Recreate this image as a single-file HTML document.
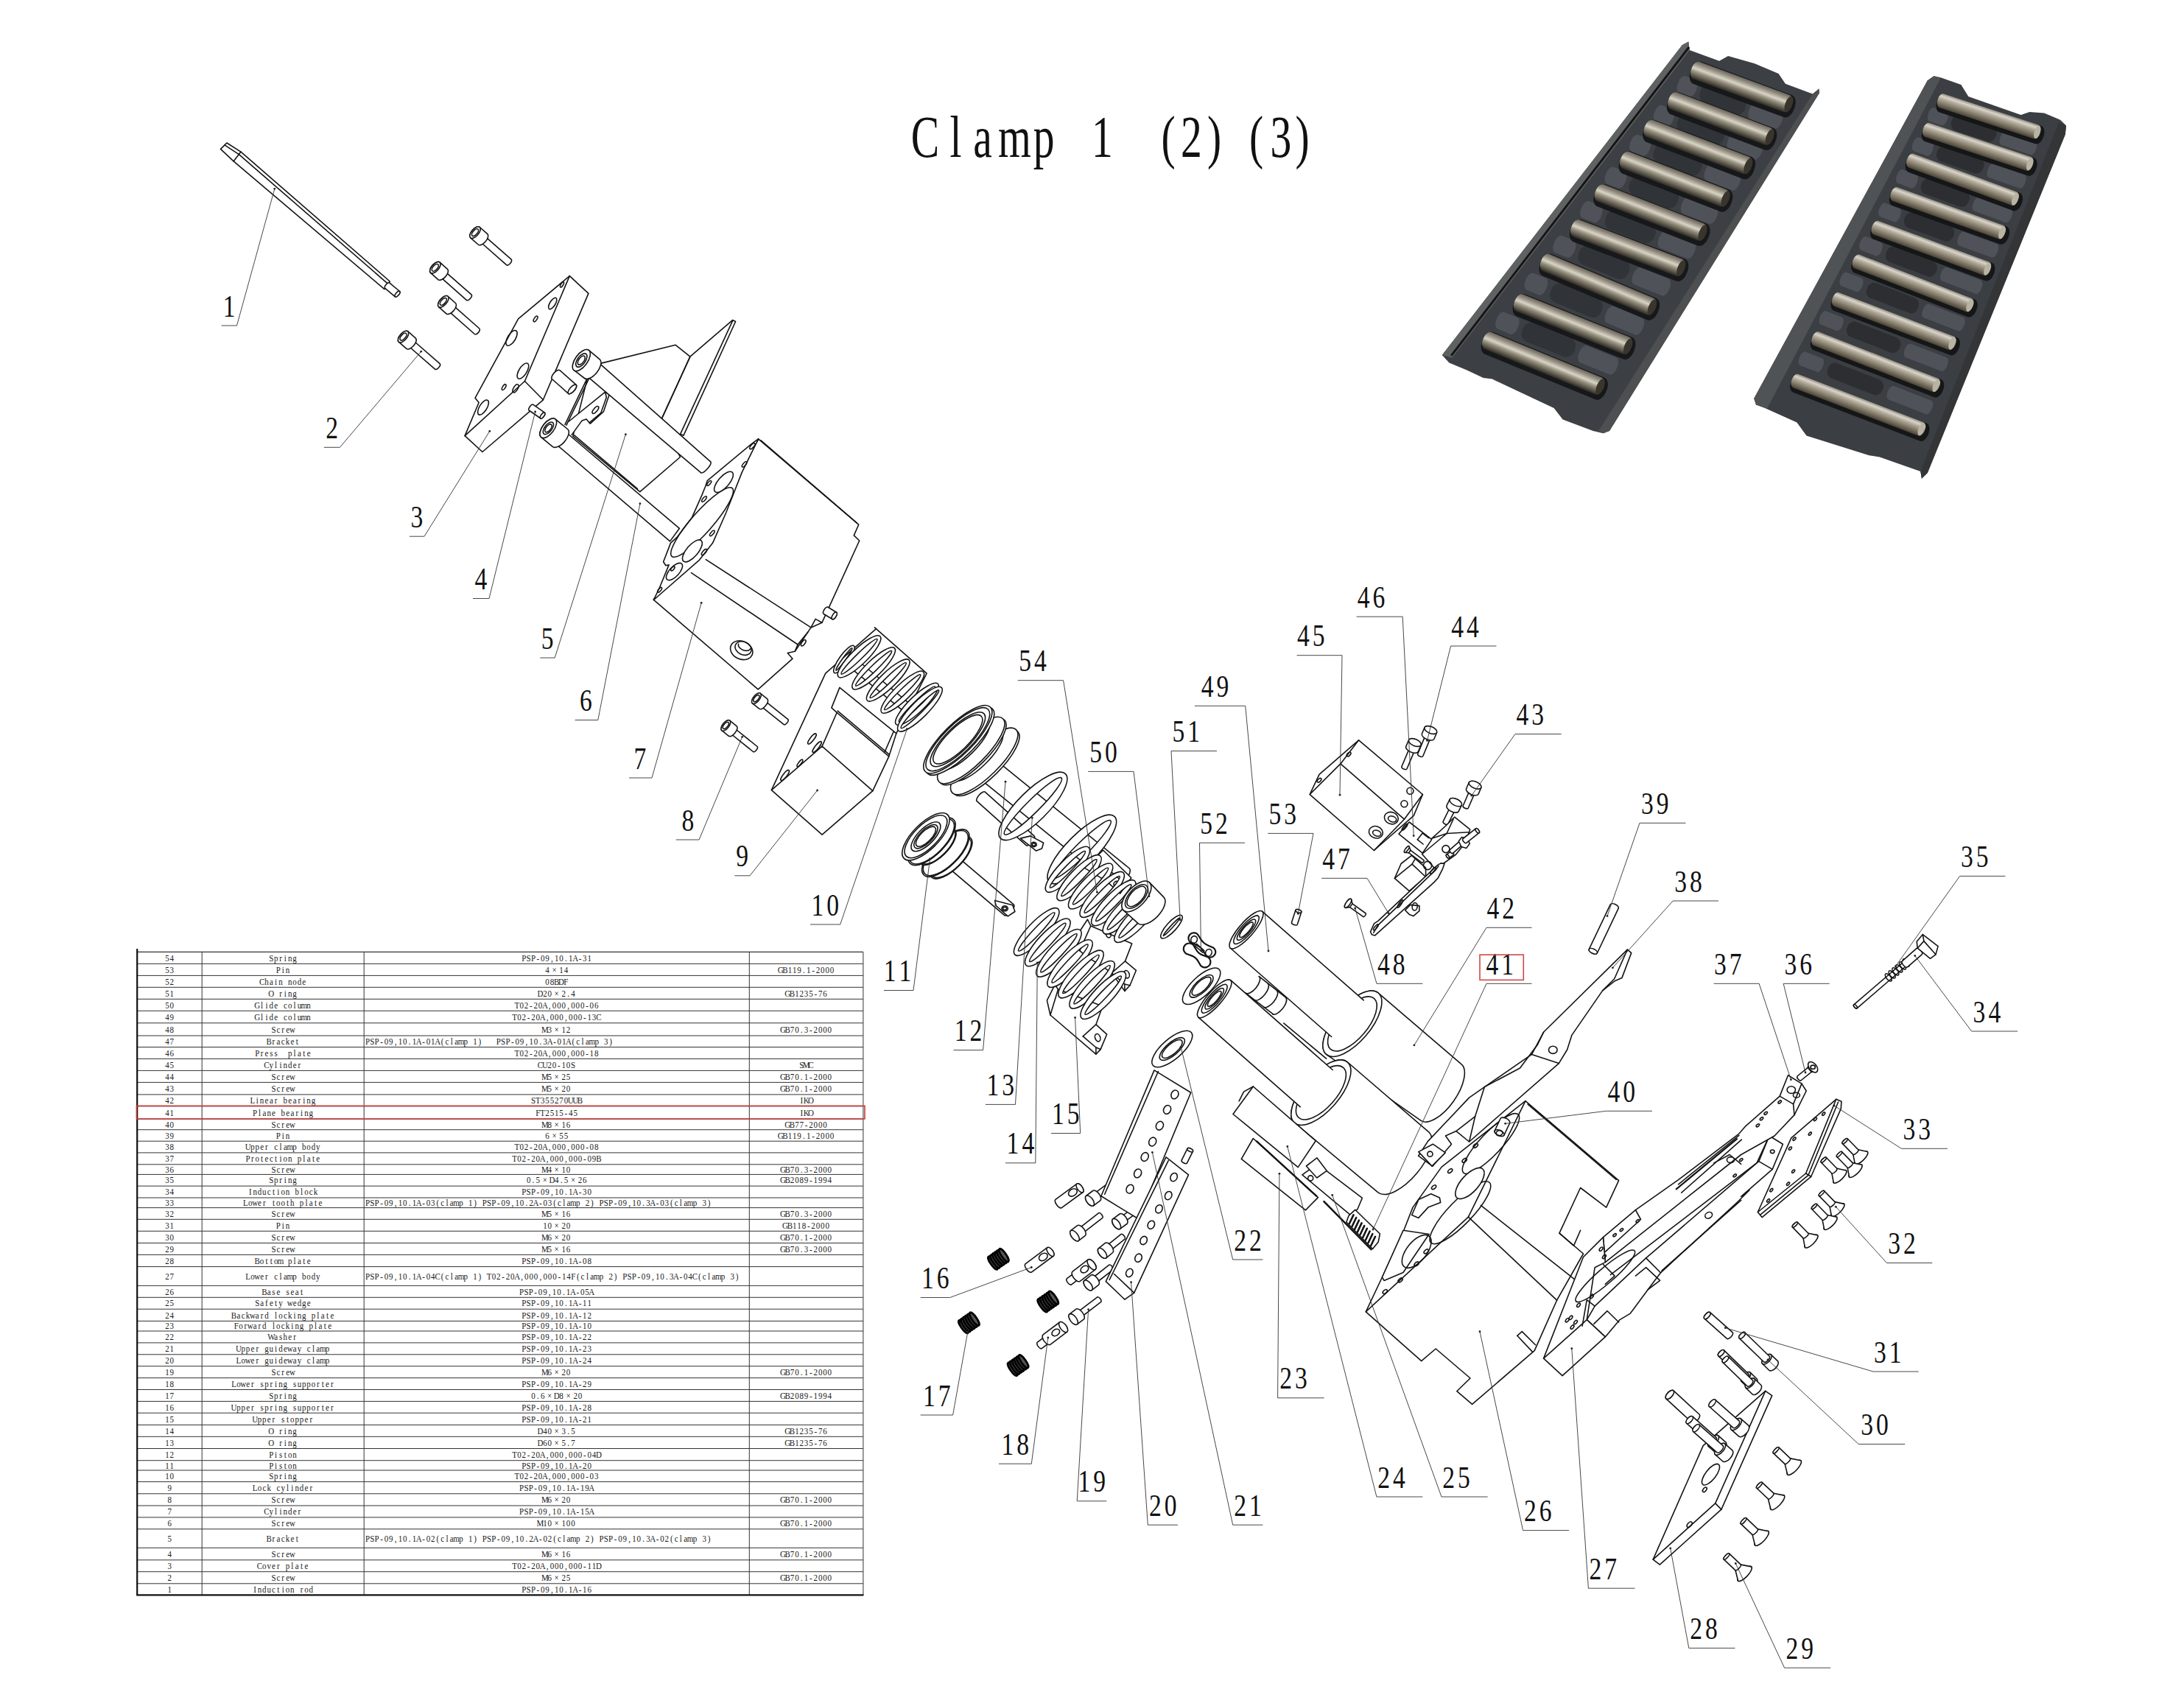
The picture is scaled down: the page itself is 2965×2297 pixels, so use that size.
<!DOCTYPE html>
<html><head><meta charset="utf-8"><title>Clamp 1 (2)(3)</title>
<style>
html,body{margin:0;padding:0;background:#fff}
body{width:2965px;height:2297px;overflow:hidden;font-family:"Liberation Serif",serif}
svg{display:block;font-family:"Liberation Serif",serif}
.dr{stroke:#141414;stroke-width:1.6;fill:none;stroke-linejoin:round;stroke-linecap:round}
</style></head><body>
<svg width="2965" height="2297" viewBox="0 0 2965 2297">
<rect width="2965" height="2297" fill="#fff"/>
<defs>
<linearGradient id="rg1" x1="0" y1="0" x2="0" y2="1"><stop offset="0" stop-color="#6a655b"/><stop offset="0.2" stop-color="#9a9487"/><stop offset="0.42" stop-color="#d8d4c6"/><stop offset="0.6" stop-color="#979180"/><stop offset="0.82" stop-color="#5e594c"/><stop offset="1" stop-color="#2c2a25"/></linearGradient>
<linearGradient id="rg2" x1="0" y1="0" x2="0" y2="1"><stop offset="0" stop-color="#8f897c"/><stop offset="0.2" stop-color="#d9d5cb"/><stop offset="0.4" stop-color="#b0a999"/><stop offset="0.7" stop-color="#7f7766"/><stop offset="1" stop-color="#4a4438"/></linearGradient>
<linearGradient id="bd1" x1="0" y1="0" x2="1" y2="1"><stop offset="0" stop-color="#4a4c4d"/><stop offset="1" stop-color="#353738"/></linearGradient>
</defs>
<g class="ph">
<polygon points="2283.7,61.2 2292.3,56.4 2293.7,68.1 2334.1,82.8 2346.1,76 2382.1,86.3 2414.6,100 2423.9,113.7 2460.9,127.4 2469.5,120.5 2469.8,126.4 2185,584.9 2176.5,588.3 2162.8,584.9 2121.6,569.5 2109.6,554.1 2025.7,514.6 2013.7,512.9 1991.4,502.6 1967.4,492.4 1957.8,482.1" fill="#3c4045"/>
<polygon points="2283.7,61.2 2292.3,56.4 2293.7,68.1 1971.5,485.5 1957.8,482.1" fill="#5f6263"/>
<polygon points="2460.9,127.4 2469.5,120.5 2469.8,126.4 2185,584.9 2176.5,588.3 2170.3,584.9" fill="#4d4f50"/>
<rect x="-0" y="-12.3" width="26.5" height="24.7" rx="6.2" ry="11.1" fill="#4f5359" transform="translate(2278.2 112.7) rotate(20.4)"/>
<rect x="-0" y="-12.3" width="47.1" height="24.7" rx="6.2" ry="11.1" fill="#4f5359" transform="translate(2374.8 148.6) rotate(20.4)"/>
<rect x="-0" y="-13.6" width="64.8" height="27.1" rx="11.1" ry="12.2" fill="#303337" transform="translate(2308.6 124) rotate(20.4)"/>
<rect x="-0" y="-12.3" width="27.4" height="24.7" rx="6.2" ry="11.1" fill="#4f5359" transform="translate(2246.4 152) rotate(20.8)"/>
<rect x="-0" y="-12.3" width="48.7" height="24.7" rx="6.2" ry="11.1" fill="#4f5359" transform="translate(2346 189.8) rotate(20.8)"/>
<rect x="-0" y="-13.6" width="66.9" height="27.1" rx="11.1" ry="12.2" fill="#303337" transform="translate(2277.7 163.9) rotate(20.8)"/>
<rect x="-0" y="-12.3" width="27.9" height="24.7" rx="6.2" ry="11.1" fill="#4f5359" transform="translate(2213.8 192.2) rotate(21)"/>
<rect x="-0" y="-12.3" width="49.6" height="24.7" rx="6.2" ry="11.1" fill="#4f5359" transform="translate(2315.2 231.2) rotate(21)"/>
<rect x="-0" y="-13.6" width="68.3" height="27.1" rx="11.1" ry="12.2" fill="#303337" transform="translate(2245.7 204.5) rotate(21)"/>
<rect x="-0" y="-12.3" width="28.5" height="24.7" rx="6.2" ry="11.1" fill="#4f5359" transform="translate(2180.4 235.9) rotate(21.3)"/>
<rect x="-0" y="-12.3" width="50.6" height="24.7" rx="6.2" ry="11.1" fill="#4f5359" transform="translate(2283.5 276.1) rotate(21.3)"/>
<rect x="-0" y="-13.6" width="69.6" height="27.1" rx="11.1" ry="12.2" fill="#303337" transform="translate(2212.8 248.5) rotate(21.3)"/>
<rect x="-0" y="-12.3" width="29.1" height="24.7" rx="6.2" ry="11.1" fill="#4f5359" transform="translate(2146.9 282.2) rotate(21.1)"/>
<rect x="-0" y="-12.3" width="51.7" height="24.7" rx="6.2" ry="11.1" fill="#4f5359" transform="translate(2252.4 322.9) rotate(21.1)"/>
<rect x="-0" y="-13.6" width="71.1" height="27.1" rx="11.1" ry="12.2" fill="#303337" transform="translate(2180.1 295) rotate(21.1)"/>
<rect x="-0" y="-12.3" width="29.8" height="24.7" rx="6.2" ry="11.1" fill="#4f5359" transform="translate(2110 329.2) rotate(21.9)"/>
<rect x="-0" y="-12.3" width="52.9" height="24.7" rx="6.2" ry="11.1" fill="#4f5359" transform="translate(2217.3 372.4) rotate(21.9)"/>
<rect x="-0" y="-13.6" width="72.7" height="27.1" rx="11.1" ry="12.2" fill="#303337" transform="translate(2143.7 342.8) rotate(21.9)"/>
<rect x="-0" y="-12.3" width="30.4" height="24.7" rx="6.2" ry="11.1" fill="#4f5359" transform="translate(2071.4 379.7) rotate(22.4)"/>
<rect x="-0" y="-12.3" width="54" height="24.7" rx="6.2" ry="11.1" fill="#4f5359" transform="translate(2180.5 424.7) rotate(22.4)"/>
<rect x="-0" y="-13.6" width="74.2" height="27.1" rx="11.1" ry="12.2" fill="#303337" transform="translate(2105.7 393.8) rotate(22.4)"/>
<rect x="-0" y="-12.3" width="31.1" height="24.7" rx="6.2" ry="11.1" fill="#4f5359" transform="translate(2031.9 432.8) rotate(22.1)"/>
<rect x="-0" y="-12.3" width="55.3" height="24.7" rx="6.2" ry="11.1" fill="#4f5359" transform="translate(2144 478.4) rotate(22.1)"/>
<rect x="-0" y="-13.6" width="76.1" height="27.1" rx="11.1" ry="12.2" fill="#303337" transform="translate(2067.1 447.1) rotate(22.1)"/>
<rect x="-2.7" y="-16" width="149.7" height="32.1" rx="9.6" ry="14.4" fill="#17181a" transform="translate(2298.1 96.5) rotate(20.2)"/>
<rect x="-2.7" y="-16" width="155.7" height="32.1" rx="9.6" ry="14.4" fill="#17181a" transform="translate(2267.3 137.7) rotate(20.7)"/>
<rect x="-2.7" y="-16" width="159.5" height="32.1" rx="9.6" ry="14.4" fill="#17181a" transform="translate(2234.7 175.4) rotate(20.9)"/>
<rect x="-2.7" y="-16" width="161.7" height="32.1" rx="9.6" ry="14.4" fill="#17181a" transform="translate(2202.2 218.2) rotate(21.2)"/>
<rect x="-2.7" y="-16" width="165.5" height="32.1" rx="9.6" ry="14.4" fill="#17181a" transform="translate(2167.9 262.8) rotate(21.3)"/>
<rect x="-2.7" y="-16" width="168.7" height="32.1" rx="9.6" ry="14.4" fill="#17181a" transform="translate(2135.3 310.7) rotate(20.9)"/>
<rect x="-2.7" y="-16" width="172.9" height="32.1" rx="9.6" ry="14.4" fill="#17181a" transform="translate(2094.2 357) rotate(22.9)"/>
<rect x="-2.7" y="-16" width="175.4" height="32.1" rx="9.6" ry="14.4" fill="#17181a" transform="translate(2058.2 411.8) rotate(21.9)"/>
<rect x="-2.7" y="-16" width="181.4" height="32.1" rx="9.6" ry="14.4" fill="#17181a" transform="translate(2015.4 463.2) rotate(22.3)"/>
<rect x="-0" y="-12.3" width="144.2" height="24.7" rx="7.4" ry="11.1" fill="url(#rg1)" transform="translate(2296.4 93.1) rotate(20.2)"/>
<ellipse cx="2428.4" cy="141.6" rx="4.9" ry="11.4" fill="#3a352c" transform="rotate(20.2 2428.4 141.6)"/>
<rect x="-0" y="-12.3" width="150.2" height="24.7" rx="7.4" ry="11.1" fill="url(#rg1)" transform="translate(2265.6 134.2) rotate(20.7)"/>
<ellipse cx="2402.6" cy="186" rx="4.9" ry="11.4" fill="#3a352c" transform="rotate(20.7 2402.6 186)"/>
<rect x="-0" y="-12.3" width="154" height="24.7" rx="7.4" ry="11.1" fill="url(#rg1)" transform="translate(2233 171.9) rotate(20.9)"/>
<ellipse cx="2373.3" cy="225.4" rx="4.9" ry="11.4" fill="#3a352c" transform="rotate(20.9 2373.3 225.4)"/>
<rect x="-0" y="-12.3" width="156.2" height="24.7" rx="7.4" ry="11.1" fill="url(#rg1)" transform="translate(2200.5 214.8) rotate(21.2)"/>
<ellipse cx="2342.5" cy="269.9" rx="4.9" ry="11.4" fill="#3a352c" transform="rotate(21.2 2342.5 269.9)"/>
<rect x="-0" y="-12.3" width="160.1" height="24.7" rx="7.4" ry="11.1" fill="url(#rg1)" transform="translate(2166.2 259.3) rotate(21.3)"/>
<ellipse cx="2311.5" cy="316.1" rx="4.9" ry="11.4" fill="#3a352c" transform="rotate(21.3 2311.5 316.1)"/>
<rect x="-0" y="-12.3" width="163.3" height="24.7" rx="7.4" ry="11.1" fill="url(#rg1)" transform="translate(2133.6 307.3) rotate(20.9)"/>
<ellipse cx="2282.3" cy="364.1" rx="4.9" ry="11.4" fill="#3a352c" transform="rotate(20.9 2282.3 364.1)"/>
<rect x="-0" y="-12.3" width="167.4" height="24.7" rx="7.4" ry="11.1" fill="url(#rg1)" transform="translate(2092.5 353.6) rotate(22.9)"/>
<ellipse cx="2242.9" cy="417.1" rx="4.9" ry="11.4" fill="#3a352c" transform="rotate(22.9 2242.9 417.1)"/>
<rect x="-0" y="-12.3" width="169.9" height="24.7" rx="7.4" ry="11.1" fill="url(#rg1)" transform="translate(2056.5 408.4) rotate(21.9)"/>
<ellipse cx="2210.2" cy="470.2" rx="4.9" ry="11.4" fill="#3a352c" transform="rotate(21.9 2210.2 470.2)"/>
<rect x="-0" y="-12.3" width="176" height="24.7" rx="7.4" ry="11.1" fill="url(#rg1)" transform="translate(2013.7 459.8) rotate(22.3)"/>
<ellipse cx="2172.4" cy="525" rx="4.9" ry="11.4" fill="#3a352c" transform="rotate(22.3 2172.4 525)"/>
<path d="M2293 64 L1970.2 482.8" stroke-width="3" stroke="#151515"/>
<polygon points="2616.8,109.2 2625.5,103.3 2634.7,105.2 2662.4,115.1 2672.3,131 2743.6,155.9 2755.4,152 2775.2,153.6 2797,162.7 2805,170.6 2803.8,182.5 2616.8,641.9 2608.9,649.8 2607.3,639.9 2551.9,620.5 2536.8,618.1 2452.5,591.6 2439.4,573.4 2395,553.6 2384,549.6 2381.2,540.9" fill="#3b3e42"/>
<polygon points="2616.8,109.2 2625.5,103.3 2634.7,106 2399,554.8 2384,549.6 2381.2,540.9" fill="#505356"/>
<polygon points="2795,166.6 2805,170.6 2803.8,182.5 2616.8,641.9 2608.9,649.8 2607.3,639.9" fill="#333537"/>
<rect x="-0" y="-9.9" width="27.2" height="19.8" rx="5" ry="8.9" fill="#4f5359" transform="translate(2617.9 153.8) rotate(18.3)"/>
<rect x="-0" y="-9.9" width="51.4" height="19.8" rx="5" ry="8.9" fill="#4f5359" transform="translate(2715.5 186.1) rotate(18.3)"/>
<rect x="-0" y="-10.9" width="63.5" height="21.8" rx="8.9" ry="9.8" fill="#2c2e31" transform="translate(2649.5 164.3) rotate(18.3)"/>
<rect x="-0" y="-9.9" width="28.5" height="19.8" rx="5" ry="8.9" fill="#4f5359" transform="translate(2597 194.3) rotate(19.3)"/>
<rect x="-0" y="-9.9" width="53.9" height="19.8" rx="5" ry="8.9" fill="#4f5359" transform="translate(2698.7 230) rotate(19.3)"/>
<rect x="-0" y="-10.9" width="66.5" height="21.8" rx="8.9" ry="9.8" fill="#2c2e31" transform="translate(2629.9 205.8) rotate(19.3)"/>
<rect x="-0" y="-9.9" width="29.2" height="19.8" rx="5" ry="8.9" fill="#4f5359" transform="translate(2575.2 237.8) rotate(20)"/>
<rect x="-0" y="-9.9" width="55.2" height="19.8" rx="5" ry="8.9" fill="#4f5359" transform="translate(2678.9 275.5) rotate(20)"/>
<rect x="-0" y="-10.9" width="68.1" height="21.8" rx="8.9" ry="9.8" fill="#2c2e31" transform="translate(2608.7 250) rotate(20)"/>
<rect x="-0" y="-9.9" width="30.2" height="19.8" rx="5" ry="8.9" fill="#4f5359" transform="translate(2551.3 283.3) rotate(20)"/>
<rect x="-0" y="-9.9" width="57" height="19.8" rx="5" ry="8.9" fill="#4f5359" transform="translate(2658.4 322.4) rotate(20)"/>
<rect x="-0" y="-10.9" width="70.4" height="21.8" rx="8.9" ry="9.8" fill="#2c2e31" transform="translate(2585.9 295.9) rotate(20)"/>
<rect x="-0" y="-9.9" width="31.1" height="19.8" rx="5" ry="8.9" fill="#4f5359" transform="translate(2525.5 328.8) rotate(20.8)"/>
<rect x="-0" y="-9.9" width="58.7" height="19.8" rx="5" ry="8.9" fill="#4f5359" transform="translate(2635.2 370.5) rotate(20.8)"/>
<rect x="-0" y="-10.9" width="72.5" height="21.8" rx="8.9" ry="9.8" fill="#2c2e31" transform="translate(2561 342.3) rotate(20.8)"/>
<rect x="-0" y="-9.9" width="31.7" height="19.8" rx="5" ry="8.9" fill="#4f5359" transform="translate(2498.7 377.2) rotate(21.1)"/>
<rect x="-0" y="-9.9" width="59.9" height="19.8" rx="5" ry="8.9" fill="#4f5359" transform="translate(2610.5 420.3) rotate(21.1)"/>
<rect x="-0" y="-10.9" width="74" height="21.8" rx="8.9" ry="9.8" fill="#2c2e31" transform="translate(2534.9 391.2) rotate(21.1)"/>
<rect x="-0" y="-9.9" width="32.7" height="19.8" rx="5" ry="8.9" fill="#4f5359" transform="translate(2470.9 429.7) rotate(21.1)"/>
<rect x="-0" y="-9.9" width="61.7" height="19.8" rx="5" ry="8.9" fill="#4f5359" transform="translate(2586 474.1) rotate(21.1)"/>
<rect x="-0" y="-10.9" width="76.2" height="21.8" rx="8.9" ry="9.8" fill="#2c2e31" transform="translate(2508.1 444.1) rotate(21.1)"/>
<rect x="-0" y="-9.9" width="34" height="19.8" rx="5" ry="8.9" fill="#4f5359" transform="translate(2443 485.1) rotate(21.2)"/>
<rect x="-0" y="-9.9" width="64.3" height="19.8" rx="5" ry="8.9" fill="#4f5359" transform="translate(2562.9 531.5) rotate(21.2)"/>
<rect x="-0" y="-10.9" width="79.4" height="21.8" rx="8.9" ry="9.8" fill="#2c2e31" transform="translate(2481.8 500.1) rotate(21.2)"/>
<rect x="-3.2" y="-12.9" width="152.2" height="25.7" rx="7.7" ry="11.6" fill="#151617" transform="translate(2632.7 138.9) rotate(18.2)"/>
<rect x="-3.2" y="-12.9" width="162.9" height="25.7" rx="7.7" ry="11.6" fill="#151617" transform="translate(2612.9 178.5) rotate(18.4)"/>
<rect x="-3.2" y="-12.9" width="166.7" height="25.7" rx="7.7" ry="11.6" fill="#151617" transform="translate(2591.1 220.1) rotate(20.2)"/>
<rect x="-3.2" y="-12.9" width="170.4" height="25.7" rx="7.7" ry="11.6" fill="#151617" transform="translate(2569.3 265.6) rotate(19.7)"/>
<rect x="-3.2" y="-12.9" width="177.4" height="25.7" rx="7.7" ry="11.6" fill="#151617" transform="translate(2543.6 311.2) rotate(20.3)"/>
<rect x="-3.2" y="-12.9" width="180.6" height="25.7" rx="7.7" ry="11.6" fill="#151617" transform="translate(2517.8 356.7) rotate(21.3)"/>
<rect x="-3.2" y="-12.9" width="184.3" height="25.7" rx="7.7" ry="11.6" fill="#151617" transform="translate(2490.1 408.2) rotate(20.9)"/>
<rect x="-3.2" y="-12.9" width="191.3" height="25.7" rx="7.7" ry="11.6" fill="#151617" transform="translate(2462.4 461.7) rotate(21.3)"/>
<rect x="-3.2" y="-12.9" width="199.4" height="25.7" rx="7.7" ry="11.6" fill="#151617" transform="translate(2434.7 519.1) rotate(21)"/>
<rect x="-0" y="-9.9" width="145.9" height="19.8" rx="5.9" ry="8.9" fill="url(#rg2)" transform="translate(2630.7 135) rotate(18.2)"/>
<ellipse cx="2765.8" cy="179.4" rx="4" ry="9.1" fill="#b9b3a4" transform="rotate(18.2 2765.8 179.4)"/>
<rect x="-0" y="-9.9" width="156.5" height="19.8" rx="5.9" ry="8.9" fill="url(#rg2)" transform="translate(2610.9 174.6) rotate(18.4)"/>
<ellipse cx="2755.7" cy="222.8" rx="4" ry="9.1" fill="#b9b3a4" transform="rotate(18.4 2755.7 222.8)"/>
<rect x="-0" y="-9.9" width="160.4" height="19.8" rx="5.9" ry="8.9" fill="url(#rg2)" transform="translate(2589.1 216.1) rotate(20.2)"/>
<ellipse cx="2735.8" cy="270.2" rx="4" ry="9.1" fill="#b9b3a4" transform="rotate(20.2 2735.8 270.2)"/>
<rect x="-0" y="-9.9" width="164.1" height="19.8" rx="5.9" ry="8.9" fill="url(#rg2)" transform="translate(2567.3 261.7) rotate(19.7)"/>
<ellipse cx="2717.9" cy="315.7" rx="4" ry="9.1" fill="#b9b3a4" transform="rotate(19.7 2717.9 315.7)"/>
<rect x="-0" y="-9.9" width="171" height="19.8" rx="5.9" ry="8.9" fill="url(#rg2)" transform="translate(2541.6 307.2) rotate(20.3)"/>
<ellipse cx="2698" cy="365.1" rx="4" ry="9.1" fill="#b9b3a4" transform="rotate(20.3 2698 365.1)"/>
<rect x="-0" y="-9.9" width="174.3" height="19.8" rx="5.9" ry="8.9" fill="url(#rg2)" transform="translate(2515.8 352.8) rotate(21.3)"/>
<ellipse cx="2674.2" cy="414.6" rx="4" ry="9.1" fill="#b9b3a4" transform="rotate(21.3 2674.2 414.6)"/>
<rect x="-0" y="-9.9" width="178" height="19.8" rx="5.9" ry="8.9" fill="url(#rg2)" transform="translate(2488.1 404.3) rotate(20.9)"/>
<ellipse cx="2650.3" cy="466" rx="4" ry="9.1" fill="#b9b3a4" transform="rotate(20.9 2650.3 466)"/>
<rect x="-0" y="-9.9" width="185" height="19.8" rx="5.9" ry="8.9" fill="url(#rg2)" transform="translate(2460.4 457.7) rotate(21.3)"/>
<ellipse cx="2628.4" cy="523.4" rx="4" ry="9.1" fill="#b9b3a4" transform="rotate(21.3 2628.4 523.4)"/>
<rect x="-0" y="-9.9" width="193.1" height="19.8" rx="5.9" ry="8.9" fill="url(#rg2)" transform="translate(2432.7 515.1) rotate(21)"/>
<ellipse cx="2608.4" cy="582.7" rx="4" ry="9.1" fill="#b9b3a4" transform="rotate(21 2608.4 582.7)"/>
</g>
<g class="dr">
<path d="M299.5 202.4 L307.9 194 L327 206.1 L529.2 382 L521.9 392.6 L317.1 218.9Z" fill="white"/>
<path d="M324.4 209.7 L526.7 385.3"/>
<path d="M327 206.1 L317.1 218.9"/>
<path d="M305 196.9 L324.4 209.7"/>
<path d="M522.5 391.1 L536.4 402.8 A4.8 2.1 -49.9 0 0 542.6 395.5 L528.6 383.8 A4.8 2.1 -49.9 0 0 522.5 391.1 Z" fill="white"/>
<ellipse cx="539.5" cy="399.2" rx="4.8" ry="2.1" transform="rotate(-49.9 539.5 399.2)" fill="white"/>
<path d="M652.2 328.5 L687.6 359.6 A4.9 2.5 -48.7 0 0 694.1 352.2 L658.7 321.1 A4.9 2.5 -48.7 0 0 652.2 328.5 Z" fill="white"/>
<ellipse cx="655.5" cy="324.8" rx="4.9" ry="2.5" transform="rotate(-48.7 655.5 324.8)" fill="white"/>
<path d="M638.7 322.8 L649.2 332 A9.5 4.8 -48.7 0 0 661.8 317.7 L651.3 308.5 A9.5 4.8 -48.7 0 0 638.7 322.8 Z" fill="white"/>
<ellipse cx="645" cy="315.6" rx="9.5" ry="4.8" transform="rotate(-48.7 645 315.6)" fill="white"/>
<ellipse cx="645" cy="315.6" rx="5.9" ry="3" transform="rotate(-48.7 645 315.6)"/>
<path d="M598 376.2 L633.3 407.3 A4.9 2.5 -48.7 0 0 639.9 399.9 L604.5 368.8 A4.9 2.5 -48.7 0 0 598 376.2 Z" fill="white"/>
<ellipse cx="601.2" cy="372.5" rx="4.9" ry="2.5" transform="rotate(-48.7 601.2 372.5)" fill="white"/>
<path d="M584.5 370.4 L594.9 379.6 A9.5 4.8 -48.7 0 0 607.5 365.3 L597.1 356.1 A9.5 4.8 -48.7 0 0 584.5 370.4 Z" fill="white"/>
<ellipse cx="590.8" cy="363.3" rx="9.5" ry="4.8" transform="rotate(-48.7 590.8 363.3)" fill="white"/>
<ellipse cx="590.8" cy="363.3" rx="5.9" ry="3" transform="rotate(-48.7 590.8 363.3)"/>
<path d="M609 422.3 L644.3 453.5 A4.9 2.5 -48.7 0 0 650.8 446 L615.5 414.9 A4.9 2.5 -48.7 0 0 609 422.3 Z" fill="white"/>
<ellipse cx="612.2" cy="418.6" rx="4.9" ry="2.5" transform="rotate(-48.7 612.2 418.6)" fill="white"/>
<path d="M595.5 416.6 L605.9 425.8 A9.5 4.8 -48.7 0 0 618.5 411.5 L608.1 402.3 A9.5 4.8 -48.7 0 0 595.5 416.6 Z" fill="white"/>
<ellipse cx="601.8" cy="409.4" rx="9.5" ry="4.8" transform="rotate(-48.7 601.8 409.4)" fill="white"/>
<ellipse cx="601.8" cy="409.4" rx="5.9" ry="3" transform="rotate(-48.7 601.8 409.4)"/>
<path d="M554.8 470 L590.5 501.1 A4.9 2.5 -48.9 0 0 597 493.7 L561.3 462.5 A4.9 2.5 -48.9 0 0 554.8 470 Z" fill="white"/>
<ellipse cx="558" cy="466.2" rx="4.9" ry="2.5" transform="rotate(-48.9 558 466.2)" fill="white"/>
<path d="M541.3 464.2 L551.8 473.4 A9.5 4.8 -48.9 0 0 564.3 459.1 L553.8 449.9 A9.5 4.8 -48.9 0 0 541.3 464.2 Z" fill="white"/>
<ellipse cx="547.5" cy="457.1" rx="9.5" ry="4.8" transform="rotate(-48.9 547.5 457.1)" fill="white"/>
<ellipse cx="547.5" cy="457.1" rx="5.9" ry="3" transform="rotate(-48.9 547.5 457.1)"/>
<path d="M773.3 374.6 L798.9 398.4 L737.4 542.8 L654.9 613.5 L631.1 591.6 L650.1 546.5 L645 540.3 L703.6 432.9Z" fill="white"/>
<path d="M773.3 374.6 L712.4 517.5 L631.1 591.6"/>
<path d="M712.4 517.5 L737.4 542.8"/>
<ellipse cx="763" cy="386.4" rx="4" ry="1.6" transform="rotate(-58 763 386.4)"/>
<ellipse cx="750.2" cy="412" rx="8.8" ry="3.7" transform="rotate(-58 750.2 412)"/>
<ellipse cx="727.1" cy="432.9" rx="4.4" ry="1.9" transform="rotate(-58 727.1 432.9)"/>
<ellipse cx="694.5" cy="458.9" rx="11.7" ry="5.3" transform="rotate(-58 694.5 458.9)"/>
<ellipse cx="709.9" cy="503.6" rx="12.1" ry="5.3" transform="rotate(-58 709.9 503.6)"/>
<ellipse cx="684.2" cy="525.6" rx="4.4" ry="1.9" transform="rotate(-58 684.2 525.6)"/>
<ellipse cx="700" cy="527.4" rx="6.2" ry="2.8" transform="rotate(-58 700 527.4)"/>
<ellipse cx="656" cy="553.1" rx="11.4" ry="5" transform="rotate(-58 656 553.1)"/>
<path d="M718.1 557 L733.9 568 A4.8 2.1 -55.1 0 0 739.4 560.2 L723.6 549.2 A4.8 2.1 -55.1 0 0 718.1 557 Z" fill="white"/>
<ellipse cx="736.6" cy="564.1" rx="4.8" ry="2.1" transform="rotate(-55.1 736.6 564.1)" fill="white"/>
<path d="M749.3 514.5 L771.7 534.3 A7.9 3.2 -48.4 0 0 782.2 522.4 L759.9 502.6 A7.9 3.2 -48.4 0 0 749.3 514.5 Z" fill="white"/>
<ellipse cx="776.9" cy="528.4" rx="7.9" ry="3.2" transform="rotate(-48.4 776.9 528.4)" fill="white"/>
<path d="M814.2 493.6 L917.2 468.3 L936.9 484.2 L898.5 568.1 L923.4 620.5 L868.8 667.7 L777.8 592.1 L797.6 512.7Z" fill="white"/>
<path d="M936.9 484.2 L994.5 434.6 L998.6 436.5 L928 591.2 L923.7 589.1 L994.5 435.7"/>
<path d="M936.9 484.2 L898.5 568.1"/>
<path d="M779.4 590.7 L865.5 663.5"/>
<path d="M797.6 512.7 L767 576.4"/>
<path d="M799.6 514 L769 577.2"/>
<path d="M771.1 573 L821.6 532.2 L827.1 535.8 L819.5 558.6 L801.3 575.2 L796 568.9 L790.2 570.9 L776.1 590.4" fill="white"/>
<path d="M821.6 532.2 L823.3 539.5 L815.8 560.6 L800.1 573.9"/>
<ellipse cx="808.4" cy="556.5" rx="6" ry="2.5" transform="rotate(-50 808.4 556.5)"/>
<path d="M814.2 493.6 L964.7 626.8 A10 3.5 131.6 0 1 951.5 641.7 L799.3 512.7 A12.1 4.2 128 0 1 814.2 493.6 Z" fill="white"/>
<path d="M799.3 475.4 L814.2 487.8 A16.5 8.2 128.9 0 1 793.5 513.5 L779.4 502.7 A16.9 8.4 126 0 1 799.3 475.4 Z" fill="white"/>
<ellipse cx="789.3" cy="489.1" rx="16.9" ry="8.4" transform="rotate(126 789.3 489.1)" fill="white"/>
<ellipse cx="789.3" cy="489.1" rx="10.7" ry="5.4" transform="rotate(125.9 789.3 489.1)"/>
<ellipse cx="789.3" cy="489.1" rx="7" ry="3.5" transform="rotate(125.9 789.3 489.1)"/>
<path d="M769.2 587.5 L922.4 717.3 L909.6 734.9 L757.4 605.1Z" fill="white"/>
<path d="M753.8 568.9 L771.1 583 A15.7 7.9 131.2 0 1 750.5 606.6 L734.7 593.7 A15.6 7.8 127.5 0 1 753.8 568.9 Z" fill="white"/>
<ellipse cx="744.3" cy="581.3" rx="15.6" ry="7.8" transform="rotate(127.5 744.3 581.3)" fill="white"/>
<ellipse cx="744.4" cy="581.3" rx="9.8" ry="4.9" transform="rotate(127.8 744.4 581.3)"/>
<ellipse cx="744.5" cy="581.3" rx="6.4" ry="3.2" transform="rotate(128.7 744.5 581.3)"/>
<path d="M1029.8 596.2 L1165.7 712.2 L1159.3 726.9 L1166.7 734 L1116 845.2 L1107.1 840.4 L1101 851.9 L1079.2 884.3 L1069.2 886.5 L1076 894.2 L1029.2 935.9 L887.2 814.1Z" fill="white"/>
<path d="M1033 597.8 L1163.2 709.8"/>
<path d="M958.3 759.6 L1101 851.9 L1116 845.2"/>
<path d="M938.5 777.6 L1083 875 L1097.1 857.7"/>
<path d="M1083 875 L1079.2 884.3"/>
<ellipse cx="1090.7" cy="872.8" rx="4.8" ry="2.2" transform="rotate(-55 1090.7 872.8)"/>
<path d="M1118.3 833.5 L1129.9 840.5 A5.4 2.5 -58.6 0 0 1135.5 831.2 L1124 824.2 A5.4 2.5 -58.6 0 0 1118.3 833.5 Z" fill="white"/>
<ellipse cx="1132.7" cy="835.9" rx="5.4" ry="2.5" transform="rotate(-58.6 1132.7 835.9)" fill="white"/>
<ellipse cx="1006.7" cy="882.7" rx="15.7" ry="12.2" transform="rotate(25 1006.7 882.7)"/>
<ellipse cx="1009" cy="880.1" rx="11.5" ry="8.7" transform="rotate(25 1009 880.1)"/>
<path d="M1002.6 874.4 A8.6 5.2 21.8 0 0 1018.6 880.8"/>
<path d="M1029.7 595.6 L1019.7 603.1 L960.2 652.7 L957.7 660.2 L952.7 672.6 L939.5 702.4 L919.6 728.8 L910.5 737.1 L900.6 762.8 L903.9 767.7 L908.1 766.9 L894.8 799.2 L887.4 814.5 L949.4 760.3 L967.6 737.1 L985.8 695.7 L1007.3 641.1Z" fill="white"/>
<ellipse cx="953.1" cy="709" rx="61.8" ry="14.2" transform="rotate(-48.5 953.1 709)"/>
<ellipse cx="982.5" cy="654.4" rx="17.6" ry="7.4" transform="rotate(-48.8 982.5 654.4)" fill="white"/>
<ellipse cx="939.9" cy="747.9" rx="18.5" ry="7.8" transform="rotate(-49.5 939.9 747.9)" fill="white"/>
<ellipse cx="915.5" cy="776" rx="14.6" ry="6.6" transform="rotate(-47.3 915.5 776)"/>
<ellipse cx="1021.4" cy="605.6" rx="5" ry="2" transform="rotate(-50 1021.4 605.6)"/>
<ellipse cx="1010.6" cy="630.4" rx="4.6" ry="1.8" transform="rotate(-50 1010.6 630.4)"/>
<ellipse cx="962.7" cy="656" rx="4.1" ry="1.7" transform="rotate(-50 962.7 656)"/>
<ellipse cx="956" cy="677.5" rx="4.6" ry="1.8" transform="rotate(-50 956 677.5)"/>
<ellipse cx="966.8" cy="723.9" rx="4.6" ry="1.8" transform="rotate(-50 966.8 723.9)"/>
<ellipse cx="956" cy="749.5" rx="5" ry="2" transform="rotate(-50 956 749.5)"/>
<ellipse cx="913.3" cy="771.9" rx="3.6" ry="1.7" transform="rotate(-50 913.3 771.9)"/>
<ellipse cx="895.6" cy="800.8" rx="4.1" ry="1.7" transform="rotate(-50 895.6 800.8)"/>
<path d="M1033.6 959.2 L1064.2 983.6 A4.5 2.2 -51.3 0 0 1069.8 976.6 L1039.2 952.2 A4.5 2.2 -51.3 0 0 1033.6 959.2 Z" fill="white"/>
<ellipse cx="1036.4" cy="955.7" rx="4.5" ry="2.2" transform="rotate(-51.3 1036.4 955.7)" fill="white"/>
<path d="M1021.5 954.8 L1031 962.4 A8.7 4.3 -51.3 0 0 1041.8 948.9 L1032.3 941.3 A8.7 4.3 -51.3 0 0 1021.5 954.8 Z" fill="white"/>
<ellipse cx="1026.9" cy="948.1" rx="8.7" ry="4.3" transform="rotate(-51.3 1026.9 948.1)" fill="white"/>
<ellipse cx="1026.9" cy="948.1" rx="5.4" ry="2.7" transform="rotate(-51.3 1026.9 948.1)"/>
<path d="M992 996 L1022.5 1020.5 A4.5 2.2 -51.3 0 0 1028.1 1013.5 L997.6 989 A4.5 2.2 -51.3 0 0 992 996 Z" fill="white"/>
<ellipse cx="994.8" cy="992.5" rx="4.5" ry="2.2" transform="rotate(-51.3 994.8 992.5)" fill="white"/>
<path d="M979.9 991.7 L989.4 999.3 A8.7 4.3 -51.3 0 0 1000.2 985.8 L990.7 978.2 A8.7 4.3 -51.3 0 0 979.9 991.7 Z" fill="white"/>
<ellipse cx="985.3" cy="984.9" rx="8.7" ry="4.3" transform="rotate(-51.3 985.3 984.9)" fill="white"/>
<ellipse cx="985.3" cy="984.9" rx="5.4" ry="2.7" transform="rotate(-51.3 985.3 984.9)"/>
<path d="M1120.7 914.2 L1189.4 853.7 L1258.1 914.2 L1216.8 995.7 L1206.8 1026.8 L1184.8 1073.6 L1116.1 1133.1 L1047.4 1072.6Z" fill="white"/>
<path d="M1047.4 1072.6 L1116.1 1013.1 L1184.8 1073.6"/>
<path d="M1116.1 1013.1 L1136.2 967.3 L1206.8 1026.8"/>
<path d="M1137.2 965.1 L1207.3 1024.3"/>
<path d="M1136.2 967.3 L1128.9 960.9 L1139.9 933.4 L1216.8 995.7"/>
<path d="M1213.2 993 L1201.3 1020.4"/>
<ellipse cx="1102.4" cy="1003" rx="8.8" ry="2.6" transform="rotate(-52 1102.4 1003)"/>
<ellipse cx="1109.1" cy="1014" rx="9.2" ry="2.6" transform="rotate(-52 1109.1 1014)"/>
<ellipse cx="1085.9" cy="1036" rx="5.9" ry="1.8" transform="rotate(-52 1085.9 1036)"/>
<ellipse cx="1065.7" cy="1052.5" rx="8.8" ry="2.6" transform="rotate(-52 1065.7 1052.5)"/>
<path d="M1158.2 909.6 L1227.8 966.4"/>
<path d="M1169.2 900.5 L1237 957.2"/>
<path d="M1189.4 853.7 L1187.5 851.9"/>
<path transform="translate(1145.9 895) rotate(-54.1)" d="M-22.6 0A22.6 6.3 0 1 1 22.6 0A22.6 6.3 0 1 1 -22.6 0ZM-18.6 0A18.6 2.2 0 1 1 18.6 0A18.6 2.2 0 1 1 -18.6 0Z" fill="white" fill-rule="evenodd"/>
<path transform="translate(1166.5 891.3) rotate(-44.1)" d="M-39.5 0A39.5 10.7 0 1 1 39.5 0A39.5 10.7 0 1 1 -39.5 0ZM-34 0A34 4.1 0 1 1 34 0A34 4.1 0 1 1 -34 0Z" fill="white" fill-rule="evenodd"/>
<path transform="translate(1186.1 907.4) rotate(-44.1)" d="M-39.5 0A39.5 10.7 0 1 1 39.5 0A39.5 10.7 0 1 1 -39.5 0ZM-34 0A34 4.1 0 1 1 34 0A34 4.1 0 1 1 -34 0Z" fill="white" fill-rule="evenodd"/>
<path transform="translate(1205.7 923.5) rotate(-44.1)" d="M-39.5 0A39.5 10.7 0 1 1 39.5 0A39.5 10.7 0 1 1 -39.5 0ZM-34 0A34 4.1 0 1 1 34 0A34 4.1 0 1 1 -34 0Z" fill="white" fill-rule="evenodd"/>
<path transform="translate(1225.3 939.7) rotate(-44.1)" d="M-39.5 0A39.5 10.7 0 1 1 39.5 0A39.5 10.7 0 1 1 -39.5 0ZM-34 0A34 4.1 0 1 1 34 0A34 4.1 0 1 1 -34 0Z" fill="white" fill-rule="evenodd"/>
<path transform="translate(1244.9 955.8) rotate(-44.1)" d="M-39.5 0A39.5 10.7 0 1 1 39.5 0A39.5 10.7 0 1 1 -39.5 0ZM-34 0A34 4.1 0 1 1 34 0A34 4.1 0 1 1 -34 0Z" fill="white" fill-rule="evenodd"/>
<path transform="translate(1248.9 962.7) rotate(-45)" d="M-41.4 0A41.4 11.2 0 1 1 41.4 0A41.4 11.2 0 1 1 -41.4 0ZM-36.3 0A36.3 4.4 0 1 1 36.3 0A36.3 4.4 0 1 1 -36.3 0Z" fill="white" fill-rule="evenodd"/>
<path d="M1326.2 1087.6 L1393.2 1147.6 A8.3 3.3 -48.2 0 0 1404.3 1135.1 L1337.3 1075.2 A8.3 3.3 -48.2 0 0 1326.2 1087.6 Z" fill="white"/>
<path d="M1385.3 1138.1 L1399 1134.9 L1416.7 1144.2 L1414.4 1151.9 L1406.7 1155.1Z" fill="white"/>
<ellipse cx="1403.5" cy="1146.5" rx="3.8" ry="3.2"/>
<ellipse cx="1403.5" cy="1146.5" rx="2.2" ry="1.9"/>
<path d="M1338.1 1063.6 L1512.5 1204.9 A16.7 6.7 -51 0 0 1533.4 1179 L1359.1 1037.7 A16.7 6.7 -51 0 0 1338.1 1063.6 Z" fill="white"/>
<ellipse cx="1338.9" cy="1035.7" rx="60.3" ry="19.9" transform="rotate(-44.7 1338.9 1035.7)" fill="white"/>
<ellipse cx="1336.2" cy="1033.5" rx="61" ry="20.1" transform="rotate(-44.7 1336.2 1033.5)" fill="white"/>
<ellipse cx="1327.2" cy="1026" rx="46" ry="15.2" transform="rotate(-44.7 1327.2 1026)" fill="white"/>
<ellipse cx="1320.4" cy="1020.4" rx="61" ry="20.1" transform="rotate(-44.7 1320.4 1020.4)" fill="white"/>
<ellipse cx="1318.3" cy="1018.6" rx="61" ry="20.1" transform="rotate(-44.7 1318.3 1018.6)" fill="white"/>
<ellipse cx="1309.3" cy="1011.1" rx="46" ry="15.2" transform="rotate(-44.7 1309.3 1011.1)" fill="white"/>
<ellipse cx="1303.2" cy="1006.1" rx="62.2" ry="20.5" transform="rotate(-44.7 1303.2 1006.1)" fill="white"/>
<ellipse cx="1300.3" cy="1003.7" rx="62.2" ry="20.5" transform="rotate(-44.7 1300.3 1003.7)" fill="white"/>
<ellipse cx="1300.3" cy="1003.7" rx="57.9" ry="19.1" transform="rotate(-44.7 1300.3 1003.7)"/>
<ellipse cx="1300.3" cy="1003.7" rx="49.8" ry="16.4" transform="rotate(-44.7 1300.3 1003.7)"/>
<ellipse cx="1300.3" cy="1003.7" rx="44.8" ry="14.8" transform="rotate(-44.7 1300.3 1003.7)"/>
<path transform="translate(1402.4 1094.4) rotate(-44.8)" d="M-62.1 0A62.1 20.5 0 1 1 62.1 0A62.1 20.5 0 1 1 -62.1 0ZM-54.4 0A54.4 8.7 0 1 1 54.4 0A54.4 8.7 0 1 1 -54.4 0Z" fill="white" fill-rule="evenodd"/>
<path transform="translate(1468.8 1153) rotate(-45)" d="M-62.8 0A62.8 20.7 0 1 1 62.8 0A62.8 20.7 0 1 1 -62.8 0ZM-55.1 0A55.1 8.8 0 1 1 55.1 0A55.1 8.8 0 1 1 -55.1 0Z" fill="white" fill-rule="evenodd"/>
<path d="M1264.3 1158.3 L1363.7 1242.6 A9.6 4 -49.7 0 0 1376.1 1227.9 L1276.7 1143.6 A9.6 4 -49.7 0 0 1264.3 1158.3 Z" fill="white"/>
<path d="M1350.6 1222.4 L1374.7 1228.8 L1377.9 1237.5 L1368.3 1243.9 L1352.2 1229.5Z" fill="white"/>
<ellipse cx="1364.1" cy="1233.3" rx="4.2" ry="3.5"/>
<ellipse cx="1364.1" cy="1233.3" rx="2.6" ry="1.9"/>
<ellipse cx="1291" cy="1164.1" rx="37.7" ry="15.8" transform="rotate(-45 1291 1164.1)" fill="white"/>
<ellipse cx="1291" cy="1164.1" rx="35.8" ry="15.1" transform="rotate(-45 1291 1164.1)"/>
<ellipse cx="1283.8" cy="1158.1" rx="41.9" ry="17.6" transform="rotate(-45 1283.8 1158.1)" fill="white"/>
<ellipse cx="1283.8" cy="1158.1" rx="39.8" ry="16.7" transform="rotate(-45 1283.8 1158.1)"/>
<ellipse cx="1273" cy="1149.2" rx="32.7" ry="13.7" transform="rotate(-45 1273 1149.2)" fill="white"/>
<ellipse cx="1273" cy="1149.2" rx="31.1" ry="13" transform="rotate(-45 1273 1149.2)"/>
<ellipse cx="1265" cy="1142.4" rx="41.9" ry="17.6" transform="rotate(-45 1265 1142.4)" fill="white"/>
<ellipse cx="1265" cy="1142.4" rx="39.8" ry="16.7" transform="rotate(-45 1265 1142.4)"/>
<ellipse cx="1256.9" cy="1135.7" rx="41.9" ry="17.6" transform="rotate(-45 1256.9 1135.7)" fill="white"/>
<ellipse cx="1256.9" cy="1135.7" rx="37.7" ry="15.8" transform="rotate(-45 1256.9 1135.7)"/>
<ellipse cx="1256.9" cy="1135.7" rx="26" ry="10.9" transform="rotate(-45 1256.9 1135.7)"/>
<ellipse cx="1256.9" cy="1135.7" rx="21" ry="8.8" transform="rotate(-45 1256.9 1135.7)"/>
<ellipse cx="1256.9" cy="1135.7" rx="17.6" ry="7.4" transform="rotate(-45 1256.9 1135.7)"/>
<path d="M1472 1178.1 L1497.7 1154.2 L1535.8 1191.8 L1520.7 1213.1 L1504.8 1198.5 L1494.1 1191.4Z" fill="white"/>
<path d="M1505.7 1181.1 L1521.6 1195 L1515.4 1203.8"/>
<ellipse cx="1516.3" cy="1200.3" rx="4.4" ry="3.9"/>
<path d="M1461.3 1271.2 L1476.4 1248.2 L1480.8 1257 L1536.7 1281 L1527.5 1304.9 L1542.4 1317.3 L1534 1337.7 L1526.9 1345.4 L1509.2 1320.9 L1494.1 1310.2 L1476.4 1299.6 L1465.8 1290.7Z" fill="white"/>
<path d="M1509.2 1320.9 L1527.5 1304.9"/>
<path d="M1509.2 1320.9 L1526.9 1336 L1534 1337.7"/>
<path d="M1526.9 1336 L1526.9 1345.4"/>
<path d="M1480.8 1257 L1465.8 1290.7"/>
<ellipse cx="1504.8" cy="1268.6" rx="3.2" ry="4.4" transform="rotate(-20 1504.8 1268.6)"/>
<ellipse cx="1529.6" cy="1322.7" rx="3.5" ry="5.3" transform="rotate(-20 1529.6 1322.7)"/>
<path d="M1421.4 1358.1 L1432.1 1336.8 L1436.5 1343.1 L1496.8 1366.1 L1487.9 1390.9 L1502.6 1404.2 L1494.1 1424.6 L1487.9 1431.2 L1425.9 1378Z" fill="white"/>
<path d="M1470.2 1406.9 L1487.9 1390.9"/>
<path d="M1470.2 1406.9 L1487.9 1422 L1494.1 1424.6"/>
<path d="M1487.9 1422 L1487.9 1431.2"/>
<path d="M1436.5 1343.1 L1425.9 1378"/>
<ellipse cx="1490.2" cy="1408.7" rx="3.5" ry="5.3" transform="rotate(-20 1490.2 1408.7)"/>
<path transform="translate(1449.4 1180.3) rotate(-45.9)" d="M-41.4 0A41.4 12.4 0 1 1 41.4 0A41.4 12.4 0 1 1 -41.4 0ZM-34.3 0A34.3 4.6 0 1 1 34.3 0A34.3 4.6 0 1 1 -34.3 0Z" fill="white" fill-rule="evenodd"/>
<path transform="translate(1465 1191.7) rotate(-45.9)" d="M-41.4 0A41.4 12.4 0 1 1 41.4 0A41.4 12.4 0 1 1 -41.4 0ZM-34.3 0A34.3 4.6 0 1 1 34.3 0A34.3 4.6 0 1 1 -34.3 0Z" fill="white" fill-rule="evenodd"/>
<path transform="translate(1480.6 1203) rotate(-45.9)" d="M-41.4 0A41.4 12.4 0 1 1 41.4 0A41.4 12.4 0 1 1 -41.4 0ZM-34.3 0A34.3 4.6 0 1 1 34.3 0A34.3 4.6 0 1 1 -34.3 0Z" fill="white" fill-rule="evenodd"/>
<path transform="translate(1496.2 1214.4) rotate(-45.9)" d="M-41.4 0A41.4 12.4 0 1 1 41.4 0A41.4 12.4 0 1 1 -41.4 0ZM-34.3 0A34.3 4.6 0 1 1 34.3 0A34.3 4.6 0 1 1 -34.3 0Z" fill="white" fill-rule="evenodd"/>
<path transform="translate(1511.8 1225.7) rotate(-45.9)" d="M-41.4 0A41.4 12.4 0 1 1 41.4 0A41.4 12.4 0 1 1 -41.4 0ZM-34.3 0A34.3 4.6 0 1 1 34.3 0A34.3 4.6 0 1 1 -34.3 0Z" fill="white" fill-rule="evenodd"/>
<path transform="translate(1527.4 1237.1) rotate(-45.9)" d="M-41.4 0A41.4 12.4 0 1 1 41.4 0A41.4 12.4 0 1 1 -41.4 0ZM-34.3 0A34.3 4.6 0 1 1 34.3 0A34.3 4.6 0 1 1 -34.3 0Z" fill="white" fill-rule="evenodd"/>
<path transform="translate(1543 1248.4) rotate(-45.9)" d="M-41.4 0A41.4 12.4 0 1 1 41.4 0A41.4 12.4 0 1 1 -41.4 0ZM-34.3 0A34.3 4.6 0 1 1 34.3 0A34.3 4.6 0 1 1 -34.3 0Z" fill="white" fill-rule="evenodd"/>
<path transform="translate(1407.2 1265) rotate(-46.7)" d="M-42.7 0A42.7 12.8 0 1 1 42.7 0A42.7 12.8 0 1 1 -42.7 0ZM-35.6 0A35.6 4.8 0 1 1 35.6 0A35.6 4.8 0 1 1 -35.6 0Z" fill="white" fill-rule="evenodd"/>
<path transform="translate(1422.3 1279.4) rotate(-46.7)" d="M-42.7 0A42.7 12.8 0 1 1 42.7 0A42.7 12.8 0 1 1 -42.7 0ZM-35.6 0A35.6 4.8 0 1 1 35.6 0A35.6 4.8 0 1 1 -35.6 0Z" fill="white" fill-rule="evenodd"/>
<path transform="translate(1437.4 1293.8) rotate(-46.7)" d="M-42.7 0A42.7 12.8 0 1 1 42.7 0A42.7 12.8 0 1 1 -42.7 0ZM-35.6 0A35.6 4.8 0 1 1 35.6 0A35.6 4.8 0 1 1 -35.6 0Z" fill="white" fill-rule="evenodd"/>
<path transform="translate(1452.5 1308.1) rotate(-46.7)" d="M-42.7 0A42.7 12.8 0 1 1 42.7 0A42.7 12.8 0 1 1 -42.7 0ZM-35.6 0A35.6 4.8 0 1 1 35.6 0A35.6 4.8 0 1 1 -35.6 0Z" fill="white" fill-rule="evenodd"/>
<path transform="translate(1467.5 1322.5) rotate(-46.7)" d="M-42.7 0A42.7 12.8 0 1 1 42.7 0A42.7 12.8 0 1 1 -42.7 0ZM-35.6 0A35.6 4.8 0 1 1 35.6 0A35.6 4.8 0 1 1 -35.6 0Z" fill="white" fill-rule="evenodd"/>
<path transform="translate(1482.6 1336.8) rotate(-46.7)" d="M-42.7 0A42.7 12.8 0 1 1 42.7 0A42.7 12.8 0 1 1 -42.7 0ZM-35.6 0A35.6 4.8 0 1 1 35.6 0A35.6 4.8 0 1 1 -35.6 0Z" fill="white" fill-rule="evenodd"/>
<path transform="translate(1497.7 1351.2) rotate(-46.7)" d="M-42.7 0A42.7 12.8 0 1 1 42.7 0A42.7 12.8 0 1 1 -42.7 0ZM-35.6 0A35.6 4.8 0 1 1 35.6 0A35.6 4.8 0 1 1 -35.6 0Z" fill="white" fill-rule="evenodd"/>
<path d="M1525.3 1235.9 L1544.6 1253.2 A24.9 12.5 -45 0 0 1579.8 1217.9 L1560.6 1198.1 A25.9 12.9 -47 0 0 1525.3 1235.9 Z" fill="white"/>
<ellipse cx="1542.9" cy="1217" rx="25.9" ry="12.9" transform="rotate(-47 1542.9 1217)" fill="white"/>
<ellipse cx="1542.9" cy="1217" rx="20" ry="10" transform="rotate(-47.6 1542.9 1217)"/>
<ellipse cx="1542.9" cy="1217" rx="16.8" ry="8.4" transform="rotate(-48.1 1542.9 1217)"/>
<path transform="translate(1590.5 1258.2) rotate(-47.5)" d="M-20.6 0A20.6 6.6 0 1 1 20.6 0A20.6 6.6 0 1 1 -20.6 0ZM-16.5 0A16.5 1.6 0 1 1 16.5 0A16.5 1.6 0 1 1 -16.5 0Z" fill="white" fill-rule="evenodd"/>
<path d="M1619.5 1280.7C1616.2 1279 1617.5 1280.3 1616.1 1279.1C1614.7 1277.9 1614.5 1277.7 1613.9 1276C1613.3 1274.3 1613.3 1274 1613.6 1272.2C1614 1270.5 1614.1 1270.2 1615.3 1268.8C1616.4 1267.5 1616.6 1267.3 1618.4 1266.7C1620.1 1266.1 1620.3 1266.1 1622.1 1266.4C1623.9 1266.7 1624.1 1266.8 1625.5 1268C1626.9 1269.2 1625.4 1268.1 1627.7 1271.1C1629.9 1274.1 1630.2 1276.5 1634.4 1280C1638.5 1283.6 1640.9 1283.5 1644.2 1285.3C1647.5 1287 1646.2 1285.7 1647.6 1286.9C1649 1288.1 1649.2 1288.3 1649.8 1290C1650.4 1291.7 1650.4 1292 1650.1 1293.7C1649.7 1295.5 1649.6 1295.8 1648.4 1297.1C1647.3 1298.5 1647.1 1298.7 1645.3 1299.3C1643.6 1299.9 1643.4 1299.9 1641.6 1299.6C1639.8 1299.2 1639.6 1299.1 1638.2 1298C1636.8 1296.8 1638.3 1297.9 1636 1294.9C1633.8 1291.9 1633.5 1289.5 1629.3 1286C1625.2 1282.4 1622.8 1282.4 1619.5 1280.7Z" fill="white" stroke-width="2.2"/>
<ellipse cx="1621.1" cy="1275.5" rx="4.2" ry="4.9" transform="rotate(20 1621.1 1275.5)"/>
<ellipse cx="1640.9" cy="1293.4" rx="4.2" ry="4.9" transform="rotate(20 1640.9 1293.4)"/>
<path d="M1624.4 1281.4 L1634.8 1290.5"/>
<path d="M1622.4 1284 L1632.8 1293.1"/>
<path d="M1613.2 1295.8C1610 1294.3 1611.1 1295.3 1609.6 1294.1C1608.1 1292.9 1608 1292.7 1607.3 1290.9C1606.6 1289.1 1606.6 1288.8 1606.9 1286.9C1607.2 1285 1607.3 1284.8 1608.6 1283.3C1609.8 1281.8 1610 1281.7 1611.8 1281C1613.6 1280.3 1613.9 1280.3 1615.8 1280.6C1617.7 1280.9 1617.9 1281.1 1619.4 1282.3C1620.9 1283.5 1619.6 1282.6 1621.7 1285.5C1623.8 1288.4 1623.8 1290.7 1627.7 1293.9C1631.5 1297 1633.8 1296.7 1637 1298.2C1640.3 1299.7 1639.2 1298.6 1640.6 1299.8C1642.1 1301.1 1642.3 1301.3 1642.9 1303.1C1643.6 1304.9 1643.6 1305.1 1643.3 1307C1643 1308.9 1642.9 1309.2 1641.7 1310.6C1640.4 1312.1 1640.2 1312.3 1638.4 1312.9C1636.6 1313.6 1636.4 1313.6 1634.5 1313.3C1632.6 1313 1632.3 1312.9 1630.9 1311.7C1629.4 1310.4 1630.6 1311.3 1628.6 1308.4C1626.5 1305.5 1626.4 1303.2 1622.6 1300.1C1618.7 1296.9 1616.5 1297.3 1613.2 1295.8Z" fill="white" stroke-width="2.2"/>
<path d="M1871.2 1348.1 L1983.3 1444.2 A47.1 21.2 125.3 0 1 1928.8 1521.2 L1800.6 1431.4 A54.6 24.6 130.2 0 1 1871.2 1348.1 Z" fill="white"/>
<ellipse cx="1835.9" cy="1389.7" rx="54.6" ry="24.6" transform="rotate(130.2 1835.9 1389.7)" fill="white"/>
<ellipse cx="1835.9" cy="1389.9" rx="45.4" ry="20.4" transform="rotate(130.6 1835.9 1389.9)"/>
<path d="M1670.2 1287 L1807.7 1407.5 L1851.2 1357.9 L1713.7 1237.4Z" fill="white" stroke="none"/>
<path d="M1670.2 1287 L1807.7 1407.5"/>
<path d="M1713.7 1237.4 L1851.2 1357.9"/>
<ellipse cx="1692" cy="1262.2" rx="33" ry="9.9" transform="rotate(-48.8 1692 1262.2)" fill="white"/>
<ellipse cx="1692" cy="1262.2" rx="24.8" ry="7.4" transform="rotate(-48.8 1692 1262.2)"/>
<ellipse cx="1692" cy="1262.2" rx="18.2" ry="5.4" transform="rotate(-48.8 1692 1262.2)"/>
<ellipse cx="1692" cy="1262.2" rx="13.2" ry="4" transform="rotate(-48.8 1692 1262.2)"/>
<path d="M1709.3 1325.6 A14.5 6.5 129.2 0 1 1691 1348.1"/>
<path d="M1721.5 1335.3 A14.5 6.5 129.2 0 1 1703.2 1357.7"/>
<path d="M1733.7 1344.9 A14.5 6.5 129.2 0 1 1715.4 1367.3"/>
<path d="M1745.8 1354.5 A14.5 6.5 129.2 0 1 1727.6 1376.9"/>
<path d="M1709.3 1325.6 L1746.2 1354.5"/>
<path d="M1691 1348.1 L1728.5 1376.9"/>
<path d="M1742.9 1389.1 L1800.6 1437.2"/>
<path d="M1829.5 1442 L1940.1 1537.2 A53.6 24.1 130 0 1 1871.2 1619.2 L1757.4 1524.4 A54.7 24.6 131.2 0 1 1829.5 1442 Z" fill="white"/>
<ellipse cx="1793.4" cy="1483.2" rx="54.7" ry="24.6" transform="rotate(131.2 1793.4 1483.2)" fill="white"/>
<ellipse cx="1793.4" cy="1483.3" rx="45.5" ry="20.5" transform="rotate(131.7 1793.4 1483.3)"/>
<path d="M1626.7 1380.8 L1765.2 1502.6 L1809.2 1452.5 L1670.7 1330.7Z" fill="white" stroke="none"/>
<path d="M1626.7 1380.8 L1765.2 1502.6"/>
<path d="M1670.7 1330.7 L1809.2 1452.5"/>
<ellipse cx="1648.7" cy="1355.8" rx="33.3" ry="10" transform="rotate(-48.7 1648.7 1355.8)" fill="white"/>
<ellipse cx="1648.7" cy="1355.8" rx="25" ry="7.5" transform="rotate(-48.7 1648.7 1355.8)"/>
<ellipse cx="1648.7" cy="1355.8" rx="18.3" ry="5.5" transform="rotate(-48.7 1648.7 1355.8)"/>
<ellipse cx="1648.7" cy="1355.8" rx="13.3" ry="4" transform="rotate(-48.7 1648.7 1355.8)"/>
<ellipse cx="1591.3" cy="1424" rx="34.3" ry="13.7" transform="rotate(139.2 1591.3 1424)" fill="white"/>
<ellipse cx="1591.3" cy="1424" rx="21.3" ry="8.5" transform="rotate(139.2 1591.3 1424)"/>
<ellipse cx="1591.3" cy="1424" rx="17.2" ry="6.9" transform="rotate(139.2 1591.3 1424)"/>
<ellipse cx="1631.1" cy="1338.8" rx="33.1" ry="13.2" transform="rotate(136.6 1631.1 1338.8)" fill="white"/>
<ellipse cx="1631.1" cy="1338.8" rx="20.5" ry="8.2" transform="rotate(136.6 1631.1 1338.8)"/>
<ellipse cx="1631.1" cy="1338.8" rx="16.6" ry="6.6" transform="rotate(136.6 1631.1 1338.8)"/>
<path d="M1758.9 1235.6 L1753.4 1252.6 A4.2 2.1 17.8 0 0 1761.3 1255.1 L1766.8 1238.1 A4.2 2.1 17.8 0 0 1758.9 1235.6 Z" fill="white"/>
<ellipse cx="1762.8" cy="1236.9" rx="4.2" ry="2.1" transform="rotate(17.8 1762.8 1236.9)" fill="white"/>
<path d="M1832.6 1231.6 L1850.9 1244.7 A2.9 1.2 -54.5 0 0 1854.2 1240 L1836 1226.9 A2.9 1.2 -54.5 0 0 1832.6 1231.6 Z" fill="white"/>
<path d="M1826 1232 L1832.6 1231.6 L1836 1226.9 L1834.2 1220.5Z" fill="white"/>
<ellipse cx="1830.1" cy="1226.3" rx="7.1" ry="2.8" transform="rotate(-54.5 1830.1 1226.3)" fill="white"/>
<path d="M2186.2 1227.8 L2157.3 1288.7 A6.1 3 25.3 0 0 2168.3 1294 L2197.2 1233.1 A6.1 3 25.3 0 0 2186.2 1227.8 Z" fill="white"/>
<ellipse cx="2162.8" cy="1291.3" rx="6.1" ry="3" transform="rotate(25.3 2162.8 1291.3)" fill="white"/>
<path d="M1491.2 1626.6 L1508.6 1613.6 A4.2 2.1 -126.8 0 0 1503.6 1606.9 L1486.2 1619.9 A4.2 2.1 -126.8 0 0 1491.2 1626.6 Z" fill="white"/>
<ellipse cx="1488.7" cy="1623.2" rx="4.2" ry="2.1" transform="rotate(-126.8 1488.7 1623.2)" fill="white"/>
<path d="M1484.5 1636.8 L1493.7 1629.9 A8.3 4.2 -126.8 0 0 1483.7 1616.5 L1474.5 1623.5 A8.3 4.2 -126.8 0 0 1484.5 1636.8 Z" fill="white"/>
<ellipse cx="1479.5" cy="1630.1" rx="8.3" ry="4.2" transform="rotate(-126.8 1479.5 1630.1)" fill="white"/>
<path d="M1527.5 1658.1 L1541.6 1647.9 A4.2 2.1 -126 0 0 1536.7 1641.2 L1522.6 1651.4 A4.2 2.1 -126 0 0 1527.5 1658.1 Z" fill="white"/>
<ellipse cx="1525" cy="1654.8" rx="4.2" ry="2.1" transform="rotate(-126 1525 1654.8)" fill="white"/>
<path d="M1520.6 1668.3 L1529.9 1661.5 A8.3 4.2 -126 0 0 1520.1 1648 L1510.8 1654.8 A8.3 4.2 -126 0 0 1520.6 1668.3 Z" fill="white"/>
<ellipse cx="1515.7" cy="1661.5" rx="8.3" ry="4.2" transform="rotate(-126 1515.7 1661.5)" fill="white"/>
<path d="M1508.1 1697.3 L1527 1682.1 A4.2 2.1 -128.8 0 0 1521.7 1675.6 L1502.9 1690.8 A4.2 2.1 -128.8 0 0 1508.1 1697.3 Z" fill="white"/>
<ellipse cx="1505.5" cy="1694" rx="4.2" ry="2.1" transform="rotate(-128.8 1505.5 1694)" fill="white"/>
<path d="M1501.7 1707.8 L1510.7 1700.5 A8.3 4.2 -128.8 0 0 1500.2 1687.6 L1491.3 1694.8 A8.3 4.2 -128.8 0 0 1501.7 1707.8 Z" fill="white"/>
<ellipse cx="1496.5" cy="1701.3" rx="8.3" ry="4.2" transform="rotate(-128.8 1496.5 1701.3)" fill="white"/>
<path d="M1488.9 1741 L1510.9 1723.8 A4.2 2.1 -128.1 0 0 1505.8 1717.2 L1483.8 1734.5 A4.2 2.1 -128.1 0 0 1488.9 1741 Z" fill="white"/>
<ellipse cx="1486.3" cy="1737.8" rx="4.2" ry="2.1" transform="rotate(-128.1 1486.3 1737.8)" fill="white"/>
<path d="M1482.4 1751.4 L1491.5 1744.3 A8.3 4.2 -128.1 0 0 1481.2 1731.2 L1472.1 1738.3 A8.3 4.2 -128.1 0 0 1482.4 1751.4 Z" fill="white"/>
<ellipse cx="1477.2" cy="1744.9" rx="8.3" ry="4.2" transform="rotate(-128.1 1477.2 1744.9)" fill="white"/>
<path d="M1567 1452.9 L1616.7 1483.3 L1545.5 1654.8 L1494.9 1623.7Z" fill="white"/>
<path d="M1572.4 1454.5 L1499.7 1621.2"/>
<ellipse cx="1594.9" cy="1485.9" rx="4.8" ry="6.1" transform="rotate(25 1594.9 1485.9)"/>
<ellipse cx="1584.6" cy="1506.4" rx="4.8" ry="6.1" transform="rotate(25 1584.6 1506.4)"/>
<ellipse cx="1574.4" cy="1528.2" rx="4.8" ry="6.1" transform="rotate(25 1574.4 1528.2)"/>
<ellipse cx="1564.7" cy="1550" rx="4.8" ry="6.1" transform="rotate(25 1564.7 1550)"/>
<ellipse cx="1554.2" cy="1570.5" rx="4.8" ry="6.1" transform="rotate(25 1554.2 1570.5)"/>
<ellipse cx="1544.6" cy="1592.9" rx="4.8" ry="6.1" transform="rotate(25 1544.6 1592.9)"/>
<ellipse cx="1534" cy="1614.1" rx="4.8" ry="6.1" transform="rotate(25 1534 1614.1)"/>
<path d="M1583 1570.8 L1613.5 1594.9 L1539.7 1755.1 L1526.9 1764.1 L1501.3 1739.7Z" fill="white"/>
<path d="M1586.2 1575.6 L1506.1 1737.5"/>
<path d="M1539.7 1755.1 L1512.5 1729.5"/>
<ellipse cx="1593.6" cy="1598.1" rx="4.5" ry="5.8" transform="rotate(25 1593.6 1598.1)"/>
<ellipse cx="1586.2" cy="1623.1" rx="4.5" ry="5.8" transform="rotate(25 1586.2 1623.1)"/>
<ellipse cx="1573.4" cy="1641.3" rx="4.5" ry="5.8" transform="rotate(25 1573.4 1641.3)"/>
<ellipse cx="1562.8" cy="1662.8" rx="4.5" ry="5.8" transform="rotate(25 1562.8 1662.8)"/>
<ellipse cx="1552.6" cy="1684" rx="4.5" ry="5.8" transform="rotate(25 1552.6 1684)"/>
<ellipse cx="1545.5" cy="1707.7" rx="4.5" ry="5.8" transform="rotate(25 1545.5 1707.7)"/>
<ellipse cx="1533.3" cy="1727.9" rx="4.5" ry="5.8" transform="rotate(25 1533.3 1727.9)"/>
<path d="M1612 1559.4 L1604 1575.4 A4.2 2.1 26.6 0 0 1611.4 1579.1 L1619.4 1563.1 A4.2 2.1 26.6 0 0 1612 1559.4 Z" fill="white"/>
<ellipse cx="1615.7" cy="1561.2" rx="4.2" ry="2.1" transform="rotate(26.6 1615.7 1561.2)" fill="white"/>
<path d="M1470.6 1673.7 L1496.8 1653.3 A4.2 2.1 -128 0 0 1491.7 1646.7 L1465.5 1667.2 A4.2 2.1 -128 0 0 1470.6 1673.7 Z" fill="white"/>
<ellipse cx="1468.1" cy="1670.5" rx="4.2" ry="2.1" transform="rotate(-128 1468.1 1670.5)" fill="white"/>
<path d="M1464.3 1684.4 L1473.4 1677.3 A8.7 4.3 -128 0 0 1462.7 1663.6 L1453.6 1670.7 A8.7 4.3 -128 0 0 1464.3 1684.4 Z" fill="white"/>
<ellipse cx="1459" cy="1677.6" rx="8.7" ry="4.3" transform="rotate(-128 1459 1677.6)" fill="white"/>
<path d="M1468.8 1787.3 L1494.8 1767.4 A4.2 2.1 -127.4 0 0 1489.8 1760.8 L1463.7 1780.7 A4.2 2.1 -127.4 0 0 1468.8 1787.3 Z" fill="white"/>
<ellipse cx="1466.2" cy="1784" rx="4.2" ry="2.1" transform="rotate(-127.4 1466.2 1784)" fill="white"/>
<path d="M1462.3 1797.9 L1471.5 1790.9 A8.7 4.3 -127.4 0 0 1461 1777.1 L1451.8 1784.1 A8.7 4.3 -127.4 0 0 1462.3 1797.9 Z" fill="white"/>
<ellipse cx="1457.1" cy="1791" rx="8.7" ry="4.3" transform="rotate(-127.4 1457.1 1791)" fill="white"/>
<path d="M1441.3 1639.7 L1470.2 1618.5 A7.1 3.5 -126.3 0 0 1461.9 1607.1 L1433 1628.3 A7.1 3.5 -126.3 0 0 1441.3 1639.7 Z" fill="white"/>
<ellipse cx="1466" cy="1612.8" rx="7.1" ry="3.5" transform="rotate(-126.3 1466 1612.8)" fill="white"/>
<ellipse cx="1456.4" cy="1618.9" rx="6.4" ry="4.5" transform="rotate(-35 1456.4 1618.9)"/>
<path d="M1400.4 1727.1 L1430.2 1705 A7.1 3.5 -126.6 0 0 1421.8 1693.7 L1392 1715.8 A7.1 3.5 -126.6 0 0 1400.4 1727.1 Z" fill="white"/>
<ellipse cx="1426" cy="1699.4" rx="7.1" ry="3.5" transform="rotate(-126.6 1426 1699.4)" fill="white"/>
<ellipse cx="1416.3" cy="1706.4" rx="6.4" ry="4.5" transform="rotate(-35 1416.3 1706.4)"/>
<path d="M1454.7 1743.8 L1469.1 1732.9 A5.1 2.6 -127.1 0 0 1462.9 1724.8 L1448.5 1735.7 A5.1 2.6 -127.1 0 0 1454.7 1743.8 Z" fill="white"/>
<path d="M1466.3 1739.3 L1487.1 1723.3 A8.3 4.2 -127.6 0 0 1477 1710.1 L1456.1 1726.1 A8.3 4.2 -127.6 0 0 1466.3 1739.3 Z" fill="white"/>
<ellipse cx="1482.1" cy="1716.7" rx="8.3" ry="4.2" transform="rotate(-127.6 1482.1 1716.7)" fill="white"/>
<ellipse cx="1472.4" cy="1723.1" rx="5.8" ry="4.2" transform="rotate(-35 1472.4 1723.1)"/>
<path d="M1414.6 1830.4 L1429.1 1819.5 A5.1 2.6 -127.1 0 0 1422.9 1811.3 L1408.4 1822.2 A5.1 2.6 -127.1 0 0 1414.6 1830.4 Z" fill="white"/>
<path d="M1426.2 1825.2 L1448.6 1808.2 A8.3 4.2 -127.1 0 0 1438.6 1795 L1416.1 1811.9 A8.3 4.2 -127.1 0 0 1426.2 1825.2 Z" fill="white"/>
<ellipse cx="1443.6" cy="1801.6" rx="8.3" ry="4.2" transform="rotate(-127.1 1443.6 1801.6)" fill="white"/>
<ellipse cx="1433.3" cy="1809" rx="5.8" ry="4.2" transform="rotate(-35 1433.3 1809)"/>
<g transform="translate(1355.4 1709.3) rotate(-35)" stroke-width="2.8" stroke="#000">
<ellipse cx="-9" cy="0" rx="3.2" ry="10.5" fill="#555"/>
<ellipse cx="-5.4" cy="0" rx="3.2" ry="10.5" fill="#555"/>
<ellipse cx="-1.8" cy="0" rx="3.2" ry="10.5" fill="#555"/>
<ellipse cx="1.8" cy="0" rx="3.2" ry="10.5" fill="#555"/>
<ellipse cx="5.4" cy="0" rx="3.2" ry="10.5" fill="#555"/>
<ellipse cx="9" cy="0" rx="3.2" ry="10.5" fill="#555"/>
</g>
<g transform="translate(1422.8 1767) rotate(-35)" stroke-width="2.8" stroke="#000">
<ellipse cx="-9" cy="0" rx="3.2" ry="10.5" fill="#555"/>
<ellipse cx="-5.4" cy="0" rx="3.2" ry="10.5" fill="#555"/>
<ellipse cx="-1.8" cy="0" rx="3.2" ry="10.5" fill="#555"/>
<ellipse cx="1.8" cy="0" rx="3.2" ry="10.5" fill="#555"/>
<ellipse cx="5.4" cy="0" rx="3.2" ry="10.5" fill="#555"/>
<ellipse cx="9" cy="0" rx="3.2" ry="10.5" fill="#555"/>
</g>
<g transform="translate(1315.4 1795.8) rotate(-35)" stroke-width="2.8" stroke="#000">
<ellipse cx="-9" cy="0" rx="3.2" ry="10.5" fill="#555"/>
<ellipse cx="-5.4" cy="0" rx="3.2" ry="10.5" fill="#555"/>
<ellipse cx="-1.8" cy="0" rx="3.2" ry="10.5" fill="#555"/>
<ellipse cx="1.8" cy="0" rx="3.2" ry="10.5" fill="#555"/>
<ellipse cx="5.4" cy="0" rx="3.2" ry="10.5" fill="#555"/>
<ellipse cx="9" cy="0" rx="3.2" ry="10.5" fill="#555"/>
</g>
<g transform="translate(1382.1 1853.5) rotate(-35)" stroke-width="2.8" stroke="#000">
<ellipse cx="-9" cy="0" rx="3.2" ry="10.5" fill="#555"/>
<ellipse cx="-5.4" cy="0" rx="3.2" ry="10.5" fill="#555"/>
<ellipse cx="-1.8" cy="0" rx="3.2" ry="10.5" fill="#555"/>
<ellipse cx="1.8" cy="0" rx="3.2" ry="10.5" fill="#555"/>
<ellipse cx="5.4" cy="0" rx="3.2" ry="10.5" fill="#555"/>
<ellipse cx="9" cy="0" rx="3.2" ry="10.5" fill="#555"/>
</g>
<path d="M1674 1512.5 L1701.3 1475 L1786.2 1548.7 L1762.2 1584.6Z" fill="white"/>
<path d="M1701.3 1475 L1688.5 1482.1 L1682.1 1494.9"/>
<path d="M1685.3 1573.4 L1701.3 1545.5 L1789.4 1625.6 L1772.4 1642.9Z" fill="white"/>
<path d="M1706.1 1549.4 L1787.2 1623.7" stroke-width="2.4"/>
<path d="M1767.9 1594.9 L1788.5 1580.1 L1849.4 1626.3 L1842.9 1641.7 L1833.3 1649.4Z" fill="white"/>
<path d="M1773.4 1583 L1787.8 1571.8 L1801.3 1589.4 L1787.8 1599Z" fill="white"/>
<ellipse cx="1779.2" cy="1599.4" rx="3.5" ry="3.5"/>
<path d="M1797.4 1631.1 L1861.5 1696.2" stroke-width="2.6"/>
<path d="M1831.1 1650.3 L1839.7 1642.3 L1873.4 1675 L1871.2 1685.9 L1863.5 1695.5 L1827.9 1659Z" fill="white"/>
<path d="M1837.5 1649.4 L1831.7 1661.5" stroke-width="2.6"/>
<path d="M1841.2 1653 L1835.4 1665.2" stroke-width="2.6"/>
<path d="M1844.9 1656.7 L1839.1 1668.9" stroke-width="2.6"/>
<path d="M1848.6 1660.4 L1842.8 1672.6" stroke-width="2.6"/>
<path d="M1852.2 1664.1 L1846.5 1676.3" stroke-width="2.6"/>
<path d="M1855.9 1667.8 L1850.2 1680" stroke-width="2.6"/>
<path d="M1859.6 1671.5 L1853.8 1683.7" stroke-width="2.6"/>
<path d="M1863.3 1675.2 L1857.5 1687.3" stroke-width="2.6"/>
<path d="M1867 1678.8 L1861.2 1691" stroke-width="2.6"/>
<path d="M2209.3 1289.1 L2214.7 1293.6 L2201.9 1327.6 L2191.7 1332.1 L2175.6 1344.9 L2134 1405.1 L2127.6 1425 L2116.3 1443.6 L1994.6 1550 L1976.9 1535.6 L1962.5 1542 L1970.5 1553.2 L1944.9 1583.3 L1925.6 1569.2 L1938.5 1549.4 L1994.6 1490.1 L2015.4 1475.6 L2063.5 1450 L2087.5 1417.9 L2095.5 1401.3Z" fill="white"/>
<path d="M2209.3 1289.1 L2191.7 1328.8 L2175.6 1344.9"/>
<path d="M2095.5 1401.3 L2079.5 1431.4 L2015.4 1475.6"/>
<path d="M2079.5 1431.4 L2116.3 1443.6"/>
<path d="M2015.4 1475.6 L2002.6 1515.7 L1976.9 1535.6"/>
<path d="M2002.6 1515.7 L1994.6 1550"/>
<ellipse cx="2108.3" cy="1425.3" rx="5.8" ry="5.1"/>
<ellipse cx="1941" cy="1566.3" rx="3.5" ry="3.5"/>
<path d="M2070.9 1494.7 L2197.6 1602.6 L2180.7 1639.1 L2145.6 1612.5 L2117 1674.2 L2149.5 1702 L2113.6 1765.2 L2083.2 1833.6 L1998.6 1906.4 L1977.8 1888.7 L1996 1871 L1949.2 1831 L1929.7 1847.6 L1854.3 1780.8 L1876.4 1734 L1906.3 1669 L1918 1639.1 L1957 1584.4 L2006.4 1545.4Z" fill="white"/>
<path d="M2074.1 1499.1 L2194.2 1601.3"/>
<path d="M2070.9 1494.7 L1993.4 1652.1 L1854.3 1780.8"/>
<path d="M1993.4 1652.1 L2113.6 1765.2"/>
<path d="M2010.4 1636.4 L2149.5 1746.2"/>
<path d="M2117 1674.2 L2136.5 1691.1 L2145.6 1670.3"/>
<path d="M2059.8 1813.3 L2066.3 1807.6 L2084.5 1825.8"/>
<path d="M2059.8 1813.3 L2080.6 1835.4"/>
<ellipse cx="1982.4" cy="1646.2" rx="57" ry="16" transform="rotate(-45.9 1982.4 1646.2)"/>
<ellipse cx="2024" cy="1552.6" rx="54.3" ry="14.7" transform="rotate(-46.9 2024 1552.6)"/>
<ellipse cx="1995.4" cy="1606.5" rx="26.2" ry="11.8" transform="rotate(-48 1995.4 1606.5)" fill="white"/>
<path d="M2037 1518.5 L2029.2 1535.2 A7 3.5 25.1 0 0 2041.9 1541.1 L2049.7 1524.5 A7 3.5 25.1 0 0 2037 1518.5 Z" fill="white"/>
<ellipse cx="2035.6" cy="1538.1" rx="7" ry="3.5" transform="rotate(25.1 2035.6 1538.1)" fill="white"/>
<ellipse cx="2035.6" cy="1538.1" rx="4.4" ry="3.6" transform="rotate(-20 2035.6 1538.1)"/>
<ellipse cx="2003.3" cy="1555.3" rx="3.6" ry="2.1" transform="rotate(-40 2003.3 1555.3)"/>
<ellipse cx="1988.2" cy="1575.3" rx="3.6" ry="2.1" transform="rotate(-40 1988.2 1575.3)"/>
<ellipse cx="1968.7" cy="1589.6" rx="3.6" ry="2.1" transform="rotate(-40 1968.7 1589.6)"/>
<ellipse cx="1946.6" cy="1611.7" rx="3.6" ry="2.1" transform="rotate(-40 1946.6 1611.7)"/>
<ellipse cx="1936.2" cy="1698.9" rx="3.6" ry="2.1" transform="rotate(-40 1936.2 1698.9)"/>
<ellipse cx="1923.2" cy="1715.8" rx="3.6" ry="2.1" transform="rotate(-40 1923.2 1715.8)"/>
<ellipse cx="1901.1" cy="1737.9" rx="3.6" ry="2.1" transform="rotate(-40 1901.1 1737.9)"/>
<ellipse cx="1880.3" cy="1753.5" rx="3.6" ry="2.1" transform="rotate(-40 1880.3 1753.5)"/>
<path d="M1916.7 1649.5 L1925.8 1628.6 L1942.7 1620.8 L1954.4 1626 L1955.7 1632.5 L1938.8 1639.1 L1925.8 1653.4Z" fill="white"/>
<path d="M1876.4 1734 L1905 1670.3 L1940.1 1675.5 L1905 1727.5 L1879 1738.4Z" fill="white"/>
<ellipse cx="1923.2" cy="1698.9" rx="26.8" ry="13.4" transform="rotate(-50.9 1923.2 1698.9)"/>
<path d="M1925.8 1563.6 L1945.3 1553.2 L1962.2 1564.9 L1944 1583.1Z" fill="white"/>
<ellipse cx="1941.4" cy="1566.7" rx="3.6" ry="3.6"/>
<path d="M2165.1 1773.2 L2234.6 1707.9 L2385 1578.9 L2402 1542 L2420.4 1553.3 L2406.2 1587.4 L2363.7 1624.3 L2375 1615.7 L2359.4 1631.3 L2254.5 1727.8 L2237.4 1750.5 L2213.3 1783.1 L2199.1 1791.6 L2179.3 1814.9 L2154.3 1791.6Z" fill="white"/>
<path d="M2402 1542 L2387.8 1576.6 L2406.2 1587.4"/>
<path d="M2387.8 1576.6 L2186.4 1730.6"/>
<path d="M2234.6 1707.9 L2254.5 1727.8"/>
<path d="M2255.9 1725 L2363.7 1629.4"/>
<ellipse cx="2319.7" cy="1649.8" rx="5.1" ry="4" transform="rotate(-30 2319.7 1649.8)"/>
<ellipse cx="2406.2" cy="1563.3" rx="2.8" ry="2.3"/>
<path d="M2176.5 1679.6 L2220.4 1642.7 L2278.6 1601.6 L2360.9 1539.1 L2369.4 1529.2 L2416.2 1488.1 L2427.5 1459.7 L2446 1471.1 L2452.2 1481 L2436 1513.6 L2409.1 1542 L2363.7 1567.5 L2179.3 1713.6Z" fill="white"/>
<path d="M2416.2 1488.1 L2434.6 1498.9 L2446 1471.1"/>
<path d="M2434.6 1498.9 L2436 1513.6"/>
<ellipse cx="2431.8" cy="1479.6" rx="5.7" ry="4.8"/>
<ellipse cx="2438.9" cy="1486.7" rx="4.5" ry="3.4"/>
<path d="M2278.6 1607.8 L2360.9 1541.4"/>
<path d="M2282.8 1619.1 L2364.3 1547.1"/>
<path d="M2275.7 1614.3 L2358 1546.2" stroke-width="2.2"/>
<path d="M2220.4 1642.7 L2227.5 1655.5 L2179.3 1699.4"/>
<path d="M2326.8 1578.9 L2348.1 1567.5 L2363.7 1580.3"/>
<ellipse cx="2349.5" cy="1574.6" rx="5.1" ry="4"/>
<ellipse cx="2386.4" cy="1527.8" rx="2.6" ry="1.4" transform="rotate(-40 2386.4 1527.8)"/>
<ellipse cx="2391.5" cy="1518.7" rx="2.6" ry="1.4" transform="rotate(-40 2391.5 1518.7)"/>
<ellipse cx="2397.2" cy="1511.3" rx="2.6" ry="1.4" transform="rotate(-40 2397.2 1511.3)"/>
<ellipse cx="2416.2" cy="1496" rx="2.6" ry="1.4" transform="rotate(-40 2416.2 1496)"/>
<ellipse cx="2223.3" cy="1657.7" rx="2.6" ry="1.4" transform="rotate(-40 2223.3 1657.7)"/>
<ellipse cx="2201.4" cy="1669.6" rx="2.6" ry="1.4" transform="rotate(-40 2201.4 1669.6)"/>
<ellipse cx="2192.1" cy="1676.7" rx="2.6" ry="1.4" transform="rotate(-40 2192.1 1676.7)"/>
<ellipse cx="2363.7" cy="1574.6" rx="2.6" ry="1.4" transform="rotate(-40 2363.7 1574.6)"/>
<ellipse cx="2355.2" cy="1595.9" rx="2.6" ry="1.4" transform="rotate(-40 2355.2 1595.9)"/>
<path d="M2095.6 1844.1 L2149.5 1706.5 L2176.5 1679.6 L2179.3 1713.6 L2165.1 1720.7 L2154.3 1791.6 L2179.3 1814.9 L2121.1 1867.7Z" fill="white"/>
<path d="M2095.6 1844.1 L2154.3 1791.6"/>
<ellipse cx="2179.3" cy="1732.3" rx="52.5" ry="10.5" transform="rotate(-40.8 2179.3 1732.3)"/>
<ellipse cx="2173.6" cy="1695.7" rx="3.1" ry="1.7" transform="rotate(-50 2173.6 1695.7)"/>
<ellipse cx="2177.9" cy="1706" rx="3.1" ry="1.7" transform="rotate(-50 2177.9 1706)"/>
<ellipse cx="2160.9" cy="1759.9" rx="3.1" ry="1.7" transform="rotate(-50 2160.9 1759.9)"/>
<ellipse cx="2143" cy="1771.8" rx="3.1" ry="1.7" transform="rotate(-50 2143 1771.8)"/>
<ellipse cx="2132.5" cy="1788.8" rx="3.1" ry="1.7" transform="rotate(-50 2132.5 1788.8)"/>
<ellipse cx="2139" cy="1795" rx="3.1" ry="1.7" transform="rotate(-50 2139 1795)"/>
<ellipse cx="2134.5" cy="1801.6" rx="3.1" ry="1.7" transform="rotate(-50 2134.5 1801.6)"/>
<ellipse cx="2127.7" cy="1792.2" rx="3.1" ry="1.7" transform="rotate(-50 2127.7 1792.2)"/>
<path d="M2148.1 1800.1 L2154.3 1764.7 L2165.1 1773.2"/>
<path d="M2176.5 1716.5 L2192.1 1732.1 L2179.3 1743.4"/>
<path d="M2220.4 1732.1 L2234.6 1720.7 L2253.6 1738.3 L2237.4 1750.5"/>
<path d="M2163.7 1797.3 L2182.1 1779.7 L2197.7 1795"/>
<path d="M2386.4 1645.5 L2431.8 1544.8 L2492.8 1492.3 L2499.9 1495.2 L2499.3 1505.1 L2458.7 1597.3 L2392.1 1652.6Z" fill="white"/>
<path d="M2492.8 1492.3 L2451.6 1593 L2386.4 1645.5"/>
<path d="M2451.6 1593 L2458.7 1597.3"/>
<path d="M2495.6 1496 L2455 1595.3 L2389.8 1649.2"/>
<ellipse cx="2436" cy="1546.2" rx="2.6" ry="1.4" transform="rotate(-50 2436 1546.2)"/>
<ellipse cx="2430.4" cy="1559" rx="2.6" ry="1.4" transform="rotate(-50 2430.4 1559)"/>
<ellipse cx="2457.3" cy="1539.1" rx="2.6" ry="1.4" transform="rotate(-50 2457.3 1539.1)"/>
<ellipse cx="2464.4" cy="1519.3" rx="2.6" ry="1.4" transform="rotate(-50 2464.4 1519.3)"/>
<ellipse cx="2475.7" cy="1512.2" rx="2.6" ry="1.4" transform="rotate(-50 2475.7 1512.2)"/>
<ellipse cx="2404.8" cy="1615.7" rx="2.6" ry="1.4" transform="rotate(-50 2404.8 1615.7)"/>
<ellipse cx="2400.6" cy="1629.9" rx="2.6" ry="1.4" transform="rotate(-50 2400.6 1629.9)"/>
<ellipse cx="2427.5" cy="1607.2" rx="2.6" ry="1.4" transform="rotate(-50 2427.5 1607.2)"/>
<ellipse cx="2434.6" cy="1590.2" rx="2.6" ry="1.4" transform="rotate(-50 2434.6 1590.2)"/>
<ellipse cx="2526.8" cy="1571.8" rx="11.9" ry="4.2" transform="rotate(135.7 2526.8 1571.8)" fill="white"/>
<path d="M2535.3 1563.5 L2522.7 1560.7 L2515.8 1567.4 L2518.3 1580.1" fill="white"/>
<path d="M2522.7 1560.7 L2508.1 1545.7 A4.8 1.7 135.7 0 0 2501.2 1552.4 L2515.8 1567.4 A4.8 1.7 135.7 0 0 2522.7 1560.7 Z" fill="white"/>
<ellipse cx="2504.7" cy="1549.1" rx="4.8" ry="1.7" transform="rotate(135.7 2504.7 1549.1)" fill="white"/>
<ellipse cx="2519.1" cy="1589.6" rx="11.9" ry="4.2" transform="rotate(135.7 2519.1 1589.6)" fill="white"/>
<path d="M2527.7 1581.3 L2515.1 1578.6 L2508.2 1585.3 L2510.6 1598" fill="white"/>
<path d="M2515.1 1578.6 L2500.5 1563.6 A4.8 1.7 135.7 0 0 2493.6 1570.3 L2508.2 1585.3 A4.8 1.7 135.7 0 0 2515.1 1578.6 Z" fill="white"/>
<ellipse cx="2497" cy="1567" rx="4.8" ry="1.7" transform="rotate(135.7 2497 1567)" fill="white"/>
<ellipse cx="2497.9" cy="1597.3" rx="11.9" ry="4.2" transform="rotate(135.7 2497.9 1597.3)" fill="white"/>
<path d="M2506.4 1589 L2493.8 1586.2 L2486.9 1593 L2489.3 1605.6" fill="white"/>
<path d="M2493.8 1586.2 L2479.2 1571.2 A4.8 1.7 135.7 0 0 2472.3 1578 L2486.9 1593 A4.8 1.7 135.7 0 0 2493.8 1586.2 Z" fill="white"/>
<ellipse cx="2475.7" cy="1574.6" rx="4.8" ry="1.7" transform="rotate(135.7 2475.7 1574.6)" fill="white"/>
<ellipse cx="2495" cy="1642.7" rx="11.9" ry="4.2" transform="rotate(135.7 2495 1642.7)" fill="white"/>
<path d="M2503.6 1634.4 L2491 1631.6 L2484.1 1638.3 L2486.5 1651" fill="white"/>
<path d="M2491 1631.6 L2476.4 1616.6 A4.8 1.7 135.7 0 0 2469.5 1623.4 L2484.1 1638.3 A4.8 1.7 135.7 0 0 2491 1631.6 Z" fill="white"/>
<ellipse cx="2472.9" cy="1620" rx="4.8" ry="1.7" transform="rotate(135.7 2472.9 1620)" fill="white"/>
<ellipse cx="2485.1" cy="1660.6" rx="11.9" ry="4.2" transform="rotate(135.7 2485.1 1660.6)" fill="white"/>
<path d="M2493.6 1652.2 L2481 1649.5 L2474.1 1656.2 L2476.6 1668.9" fill="white"/>
<path d="M2481 1649.5 L2466.4 1634.5 A4.8 1.7 135.7 0 0 2459.5 1641.2 L2474.1 1656.2 A4.8 1.7 135.7 0 0 2481 1649.5 Z" fill="white"/>
<ellipse cx="2463" cy="1637.9" rx="4.8" ry="1.7" transform="rotate(135.7 2463 1637.9)" fill="white"/>
<ellipse cx="2459" cy="1685.2" rx="11.9" ry="4.2" transform="rotate(135.7 2459 1685.2)" fill="white"/>
<path d="M2467.5 1676.9 L2454.9 1674.2 L2448 1680.9 L2450.5 1693.6" fill="white"/>
<path d="M2454.9 1674.2 L2440.3 1659.2 A4.8 1.7 135.7 0 0 2433.4 1665.9 L2448 1680.9 A4.8 1.7 135.7 0 0 2454.9 1674.2 Z" fill="white"/>
<ellipse cx="2436.9" cy="1662.6" rx="4.8" ry="1.7" transform="rotate(135.7 2436.9 1662.6)" fill="white"/>
<path d="M2314 1790.2 L2344.3 1817.2 A5.7 2.8 -48.4 0 0 2351.9 1808.7 L2321.5 1781.7 A5.7 2.8 -48.4 0 0 2314 1790.2 Z" fill="white"/>
<ellipse cx="2317.7" cy="1786" rx="5.7" ry="2.8" transform="rotate(-48.4 2317.7 1786)" fill="white"/>
<path d="M2413.6 1847.9 L2404.4 1839.1 A8.5 4.3 134 0 0 2392.6 1851.3 L2401.7 1860.2 A8.5 4.3 134 0 0 2413.6 1847.9 Z" fill="white"/>
<ellipse cx="2398.5" cy="1845.2" rx="8.5" ry="4.3" transform="rotate(134 2398.5 1845.2)" fill="white"/>
<path d="M2402.2 1841.3 L2368.9 1809 A5.4 2.7 134 0 0 2361.4 1816.8 L2394.7 1849 A5.4 2.7 134 0 0 2402.2 1841.3 Z" fill="white"/>
<ellipse cx="2365.1" cy="1812.9" rx="5.4" ry="2.7" transform="rotate(134 2365.1 1812.9)" fill="white"/>
<path d="M2385.2 1872 L2376 1863.2 A8.5 4.3 134 0 0 2364.2 1875.4 L2373.4 1884.3 A8.5 4.3 134 0 0 2385.2 1872 Z" fill="white"/>
<ellipse cx="2370.1" cy="1869.3" rx="8.5" ry="4.3" transform="rotate(134 2370.1 1869.3)" fill="white"/>
<path d="M2373.9 1865.4 L2340.5 1833.1 A5.4 2.7 134 0 0 2333 1840.9 L2366.4 1873.2 A5.4 2.7 134 0 0 2373.9 1865.4 Z" fill="white"/>
<ellipse cx="2336.7" cy="1837" rx="5.4" ry="2.7" transform="rotate(134 2336.7 1837)" fill="white"/>
<path d="M2390.9 1880.5 L2381.7 1871.7 A8.5 4.3 134 0 0 2369.9 1883.9 L2379 1892.8 A8.5 4.3 134 0 0 2390.9 1880.5 Z" fill="white"/>
<ellipse cx="2375.8" cy="1877.8" rx="8.5" ry="4.3" transform="rotate(134 2375.8 1877.8)" fill="white"/>
<path d="M2379.5 1873.9 L2346.2 1841.7 A5.4 2.7 134 0 0 2338.7 1849.4 L2372 1881.7 A5.4 2.7 134 0 0 2379.5 1873.9 Z" fill="white"/>
<ellipse cx="2342.4" cy="1845.5" rx="5.4" ry="2.7" transform="rotate(134 2342.4 1845.5)" fill="white"/>
<path d="M2454.3 1449.3 L2440.5 1460.5 A3.8 2.3 51.1 0 0 2445.4 1466.5 L2459.1 1455.3 A3.8 2.3 51.1 0 0 2454.3 1449.3 Z" fill="white"/>
<path d="M2456 1442.2 L2454.3 1449.3 L2459.1 1455.3 L2466.5 1455.2Z" fill="white"/>
<ellipse cx="2461.2" cy="1448.7" rx="8.3" ry="5" transform="rotate(51.1 2461.2 1448.7)" fill="white"/>
<ellipse cx="2461.2" cy="1448.7" rx="3.2" ry="2.6"/>
<path d="M2244.2 2117.1 L2312.2 1962.6 L2396.7 1888.4 L2405.7 1894.6 L2336.9 2049.1 L2253.3 2124.1Z" fill="white"/>
<path d="M2396.7 1888.4 L2328.7 2040.9 L2244.2 2117.1"/>
<path d="M2328.7 2040.9 L2336.9 2049.1"/>
<ellipse cx="2322.5" cy="2001.7" rx="17.3" ry="7" transform="rotate(-52 2322.5 2001.7)"/>
<ellipse cx="2314.3" cy="2022.3" rx="3.7" ry="2.1" transform="rotate(-50 2314.3 2022.3)"/>
<ellipse cx="2293.7" cy="2069.7" rx="4.5" ry="2.5" transform="rotate(-50 2293.7 2069.7)"/>
<path d="M2261.9 1898.8 L2296.9 1931 A7.4 3.7 -47.5 0 0 2306.9 1920 L2271.9 1887.9 A7.4 3.7 -47.5 0 0 2261.9 1898.8 Z" fill="white"/>
<ellipse cx="2266.9" cy="1893.4" rx="7.4" ry="3.7" transform="rotate(-47.5 2266.9 1893.4)" fill="white"/>
<path d="M2374 1935.4 L2363.5 1926.1 A9.9 4.9 131.5 0 0 2350.4 1940.9 L2360.9 1950.2 A9.9 4.9 131.5 0 0 2374 1935.4 Z" fill="white"/>
<ellipse cx="2356.9" cy="1933.5" rx="9.9" ry="4.9" transform="rotate(131.5 2356.9 1933.5)" fill="white"/>
<path d="M2361 1928.9 L2328.7 1900.3 A6.2 3.1 131.5 0 0 2320.5 1909.5 L2352.8 1938.2 A6.2 3.1 131.5 0 0 2361 1928.9 Z" fill="white"/>
<ellipse cx="2324.6" cy="1904.9" rx="6.2" ry="3.1" transform="rotate(131.5 2324.6 1904.9)" fill="white"/>
<path d="M2343.1 1958.1 L2332.6 1948.8 A9.9 4.9 131.5 0 0 2319.5 1963.6 L2330 1972.9 A9.9 4.9 131.5 0 0 2343.1 1958.1 Z" fill="white"/>
<ellipse cx="2326" cy="1956.2" rx="9.9" ry="4.9" transform="rotate(131.5 2326 1956.2)" fill="white"/>
<path d="M2330.1 1951.6 L2297.7 1922.9 A6.2 3.1 131.5 0 0 2289.6 1932.2 L2321.9 1960.8 A6.2 3.1 131.5 0 0 2330.1 1951.6 Z" fill="white"/>
<ellipse cx="2293.7" cy="1927.6" rx="6.2" ry="3.1" transform="rotate(131.5 2293.7 1927.6)" fill="white"/>
<path d="M2352.1 1969.2 L2341.6 1959.9 A9.9 4.9 131.5 0 0 2328.5 1974.7 L2339 1984 A9.9 4.9 131.5 0 0 2352.1 1969.2 Z" fill="white"/>
<ellipse cx="2335.1" cy="1967.3" rx="9.9" ry="4.9" transform="rotate(131.5 2335.1 1967.3)" fill="white"/>
<path d="M2339.2 1962.7 L2306.8 1934.1 A6.2 3.1 131.5 0 0 2298.6 1943.3 L2331 1971.9 A6.2 3.1 131.5 0 0 2339.2 1962.7 Z" fill="white"/>
<ellipse cx="2302.7" cy="1938.7" rx="6.2" ry="3.1" transform="rotate(131.5 2302.7 1938.7)" fill="white"/>
<ellipse cx="2435.8" cy="1992.3" rx="13.2" ry="4.6" transform="rotate(133.5 2435.8 1992.3)" fill="white"/>
<path d="M2444.9 1982.7 L2430.5 1979.9 L2423.2 1987.6 L2426.7 2001.8" fill="white"/>
<path d="M2430.5 1979.9 L2414.8 1964.9 A5.4 1.9 133.5 0 0 2407.4 1972.7 L2423.2 1987.6 A5.4 1.9 133.5 0 0 2430.5 1979.9 Z" fill="white"/>
<ellipse cx="2411.1" cy="1968.8" rx="5.4" ry="1.9" transform="rotate(133.5 2411.1 1968.8)" fill="white"/>
<ellipse cx="2413.1" cy="2039.6" rx="13.2" ry="4.6" transform="rotate(133.5 2413.1 2039.6)" fill="white"/>
<path d="M2422.2 2030.1 L2407.9 2027.2 L2400.5 2035 L2404.1 2049.2" fill="white"/>
<path d="M2407.9 2027.2 L2392.1 2012.3 A5.4 1.9 133.5 0 0 2384.7 2020 L2400.5 2035 A5.4 1.9 133.5 0 0 2407.9 2027.2 Z" fill="white"/>
<ellipse cx="2388.4" cy="2016.2" rx="5.4" ry="1.9" transform="rotate(133.5 2388.4 2016.2)" fill="white"/>
<ellipse cx="2391.7" cy="2088.3" rx="13.2" ry="4.6" transform="rotate(133.5 2391.7 2088.3)" fill="white"/>
<path d="M2400.8 2078.7 L2386.4 2075.9 L2379.1 2083.6 L2382.6 2097.8" fill="white"/>
<path d="M2386.4 2075.9 L2370.7 2060.9 A5.4 1.9 133.5 0 0 2363.3 2068.7 L2379.1 2083.6 A5.4 1.9 133.5 0 0 2386.4 2075.9 Z" fill="white"/>
<ellipse cx="2367" cy="2064.8" rx="5.4" ry="1.9" transform="rotate(133.5 2367 2064.8)" fill="white"/>
<ellipse cx="2368.6" cy="2136.5" rx="13.2" ry="4.6" transform="rotate(133.5 2368.6 2136.5)" fill="white"/>
<path d="M2377.7 2126.9 L2363.4 2124.1 L2356 2131.8 L2359.6 2146" fill="white"/>
<path d="M2363.4 2124.1 L2347.6 2109.1 A5.4 1.9 133.5 0 0 2340.2 2116.9 L2356 2131.8 A5.4 1.9 133.5 0 0 2363.4 2124.1 Z" fill="white"/>
<ellipse cx="2343.9" cy="2113" rx="5.4" ry="1.9" transform="rotate(133.5 2343.9 2113)" fill="white"/>
<path d="M2521 1368.8 L2589.9 1309.5 A3.2 1.6 -130.7 0 0 2585.7 1304.6 L2516.8 1363.9 A3.2 1.6 -130.7 0 0 2521 1368.8 Z" fill="white"/>
<ellipse cx="2518.9" cy="1366.3" rx="3.2" ry="1.6" transform="rotate(-130.7 2518.9 1366.3)" fill="white"/>
<ellipse cx="2563.8" cy="1326.9" rx="2.9" ry="6.1" transform="rotate(-40 2563.8 1326.9)"/>
<ellipse cx="2568.6" cy="1322.9" rx="2.9" ry="6.1" transform="rotate(-40 2568.6 1322.9)"/>
<ellipse cx="2573.4" cy="1318.9" rx="2.9" ry="6.1" transform="rotate(-40 2573.4 1318.9)"/>
<ellipse cx="2578.2" cy="1314.9" rx="2.9" ry="6.1" transform="rotate(-40 2578.2 1314.9)"/>
<ellipse cx="2583" cy="1310.9" rx="2.9" ry="6.1" transform="rotate(-40 2583 1310.9)"/>
<ellipse cx="2587.8" cy="1306.9" rx="2.9" ry="6.1" transform="rotate(-40 2587.8 1306.9)"/>
<path d="M2589.8 1312.7 L2609.1 1295.8 A5.4 2.7 -131.5 0 0 2601.8 1287.6 L2582.6 1304.6 A5.4 2.7 -131.5 0 0 2589.8 1312.7 Z" fill="white"/>
<path d="M2602.2 1278.2 L2610.3 1268.6 L2631.1 1284.6 L2627.9 1295.8 L2620.5 1301.3 L2603.2 1287.2Z" fill="white"/>
<path d="M2610.3 1268.6 L2611.9 1277.6 L2603.2 1287.2"/>
<path d="M2611.9 1277.6 L2627.9 1295.8"/>
<path d="M1844.6 1004.8 L1791 1051.3 L1778.2 1078.5 L1865.4 1154.5 L1919.2 1107.4 L1931.4 1078.5Z" fill="white"/>
<path d="M1844.6 1004.8 L1819.9 1036.9 L1778.2 1078.5"/>
<path d="M1819.9 1036.9 L1906.4 1112.2 L1865.4 1154.5"/>
<path d="M1906.4 1112.2 L1931.4 1078.5"/>
<ellipse cx="1831.1" cy="1024" rx="3.5" ry="1.9" transform="rotate(-45 1831.1 1024)"/>
<ellipse cx="1791" cy="1059.3" rx="3.5" ry="1.9" transform="rotate(-45 1791 1059.3)"/>
<ellipse cx="1914.4" cy="1073.7" rx="4.5" ry="4.5"/>
<ellipse cx="1906.4" cy="1091.3" rx="4.5" ry="4.5"/>
<ellipse cx="1888.8" cy="1110.6" rx="9.6" ry="8" transform="rotate(20 1888.8 1110.6)"/>
<ellipse cx="1890.1" cy="1111.9" rx="5.8" ry="3.8" transform="rotate(20 1890.1 1111.9)"/>
<ellipse cx="1867.9" cy="1129.8" rx="9.6" ry="8" transform="rotate(20 1867.9 1129.8)"/>
<ellipse cx="1869.2" cy="1131.1" rx="5.8" ry="3.8" transform="rotate(20 1869.2 1131.1)"/>
<path d="M1935.1 998.4 L1924.7 1023.5 A3.8 1.9 22.5 0 0 1931.8 1026.5 L1942.2 1001.4 A3.8 1.9 22.5 0 0 1935.1 998.4 Z" fill="white"/>
<ellipse cx="1938.6" cy="999.9" rx="3.8" ry="1.9" transform="rotate(22.5 1938.6 999.9)" fill="white"/>
<path d="M1934 987.6 L1930.3 996.5 A9 4.5 22.5 0 0 1946.9 1003.3 L1950.6 994.5 A9 4.5 22.5 0 0 1934 987.6 Z" fill="white"/>
<ellipse cx="1942.3" cy="991" rx="9" ry="4.5" transform="rotate(22.5 1942.3 991)" fill="white"/>
<path d="M1913.6 1015.4 L1902.9 1040.8 A3.8 1.9 22.8 0 0 1910 1043.8 L1920.7 1018.4 A3.8 1.9 22.8 0 0 1913.6 1015.4 Z" fill="white"/>
<ellipse cx="1917.1" cy="1016.9" rx="3.8" ry="1.9" transform="rotate(22.8 1917.1 1016.9)" fill="white"/>
<path d="M1912.6 1004.5 L1908.8 1013.4 A9 4.5 22.8 0 0 1925.4 1020.4 L1929.1 1011.5 A9 4.5 22.8 0 0 1912.6 1004.5 Z" fill="white"/>
<ellipse cx="1920.8" cy="1008" rx="9" ry="4.5" transform="rotate(22.8 1920.8 1008)" fill="white"/>
<path d="M1995.2 1073 L1986.2 1094 A3.8 1.9 23.3 0 0 1993.3 1097 L2002.3 1076.1 A3.8 1.9 23.3 0 0 1995.2 1073 Z" fill="white"/>
<ellipse cx="1998.8" cy="1074.5" rx="3.8" ry="1.9" transform="rotate(23.3 1998.8 1074.5)" fill="white"/>
<path d="M1994.3 1062.2 L1990.5 1071 A9 4.5 23.3 0 0 2007 1078.1 L2010.8 1069.3 A9 4.5 23.3 0 0 1994.3 1062.2 Z" fill="white"/>
<ellipse cx="2002.6" cy="1065.7" rx="9" ry="4.5" transform="rotate(23.3 2002.6 1065.7)" fill="white"/>
<path d="M1968.6 1096 L1959.1 1115.3 A3.8 1.9 26.3 0 0 1965.9 1118.7 L1975.5 1099.4 A3.8 1.9 26.3 0 0 1968.6 1096 Z" fill="white"/>
<ellipse cx="1972" cy="1097.7" rx="3.8" ry="1.9" transform="rotate(26.3 1972 1097.7)" fill="white"/>
<path d="M1968.2 1085.1 L1964 1093.7 A9 4.5 26.3 0 0 1980.1 1101.7 L1984.3 1093.1 A9 4.5 26.3 0 0 1968.2 1085.1 Z" fill="white"/>
<ellipse cx="1976.3" cy="1089.1" rx="9" ry="4.5" transform="rotate(26.3 1976.3 1089.1)" fill="white"/>
<path d="M1893.4 1192.4 L1902.1 1172.5 L1916.4 1161.3 L1935.6 1178.1 L1935.6 1190.5 L1913.2 1209.7Z" fill="white"/>
<path d="M1893.4 1192.4 L1917 1173.1 L1935.6 1190.5"/>
<path d="M1917 1173.1 L1920.7 1166.9"/>
<path d="M1943.7 1138.3 L1962.9 1121 L1974.7 1109.2 L1995.8 1126.2 L1989 1144.6 L1975.9 1160.7 L1959.2 1172.5 L1948 1179.3 L1930.6 1159.5 L1964.1 1131.5Z" fill="white"/>
<path d="M1964.1 1131.5 L1973.1 1112"/>
<path d="M1964.1 1131.5 L1993.9 1129.7"/>
<ellipse cx="1962.9" cy="1152.6" rx="5" ry="5"/>
<ellipse cx="1938.1" cy="1175" rx="5.6" ry="5.6"/>
<path d="M1967.1 1165 L1973.3 1160.7 A3 1.5 -125 0 0 1969.9 1155.8 L1963.7 1160.1 A3 1.5 -125 0 0 1967.1 1165 Z" fill="white"/>
<ellipse cx="1965.4" cy="1162.6" rx="3" ry="1.5" transform="rotate(-125 1965.4 1162.6)" fill="white"/>
<path d="M1972.4 1158.3 L1986.1 1146.3 A3.1 1.6 -131.4 0 0 1982 1141.6 L1968.3 1153.6 A3.1 1.6 -131.4 0 0 1972.4 1158.3 Z" fill="white"/>
<path d="M1980.3 1142.1 L1984.6 1136.5 L1992.1 1138.3 L1995.2 1145.2 L1990.8 1151.4 L1984 1149.5Z" fill="white"/>
<path d="M1990.7 1144.4 L2008 1130.7 A3.7 1.9 -128.2 0 0 2003.4 1124.9 L1986.1 1138.5 A3.7 1.9 -128.2 0 0 1990.7 1144.4 Z" fill="white"/>
<ellipse cx="2005.7" cy="1127.8" rx="3.7" ry="1.9" transform="rotate(-128.2 2005.7 1127.8)" fill="white"/>
<path d="M1899 1132.1 L1913.2 1116 L1943.7 1139.6 L1931.2 1158.2Z" fill="white"/>
<path d="M1924.4 1139.8 L1931.2 1131.1 L1939.3 1137.4"/>
<path d="M1924.4 1139.8 L1932.1 1146"/>
<ellipse cx="1907" cy="1122.8" rx="5.6" ry="1.6" transform="rotate(-50 1907 1122.8)"/>
<path d="M1912.5 1157.7 L1930.6 1171.3 A2.1 0.7 -53 0 0 1933.1 1167.9 L1915 1154.3 A2.1 0.7 -53 0 0 1912.5 1157.7 Z" fill="white"/>
<path d="M1906.6 1157.2 L1912.5 1157.7 L1915 1154.3 L1912.9 1148.8Z" fill="white"/>
<ellipse cx="1909.8" cy="1153" rx="5.2" ry="1.8" transform="rotate(-53 1909.8 1153)" fill="white"/>
<path d="M1907.7 1235.8 L1914.5 1228.4 L1926.9 1229.6 L1926.9 1236.7 L1918.8 1243.6 L1913.2 1241.4Z" fill="white"/>
<ellipse cx="1920.7" cy="1230.8" rx="3.5" ry="5.2" transform="rotate(10 1920.7 1230.8)"/>
<path d="M1860.5 1265 L1865.5 1253.8 L1871 1250.1 L1951.7 1174.4 L1956.1 1171.9 L1961 1172.5 L1958.6 1179.3 L1952.4 1191.7 L1946.8 1197.9 L1866.7 1269.9 L1862.3 1268.7Z" fill="white"/>
<path d="M1864.8 1266.2 L1870.4 1256.3 L1949.2 1180.8 L1953 1175.6"/>
<ellipse cx="1945.5" cy="1181.8" rx="5.6" ry="1.5" transform="rotate(-50 1945.5 1181.8)"/>
<ellipse cx="1900.8" cy="1227.1" rx="6.2" ry="1.5" transform="rotate(-55 1900.8 1227.1)"/>
<ellipse cx="1867.9" cy="1258.8" rx="5" ry="1.5" transform="rotate(-50 1867.9 1258.8)"/>
</g>
<g class="ld" stroke="#333" stroke-width="0.9" fill="none">
<path d="M300.6 442H321.5M321.5 442L372.8 256.3"/>
<path d="M439.8 607.3H461.4M461.4 607.3L571.7 477.2"/>
<path d="M556 728.2H576M576 728.2L664.8 585.3"/>
<path d="M642 812.5H664M664 812.5L726.6 559"/>
<path d="M733.3 893H753.2M753.2 893L849.4 589.7"/>
<path d="M780.6 977.5H811.8M811.8 977.5L868.9 683.7"/>
<path d="M854 1056H885M885 1056L952.2 818.3"/>
<path d="M917.7 1140H949M949 1140L1007.7 1000.3"/>
<path d="M997.4 1188.8H1018M1018 1188.8L1109.6 1073"/>
<path d="M1100 1255H1140.7M1140.7 1255L1231.4 989.7"/>
<path d="M1200 1344.5H1240M1240 1344.5L1262.5 1166"/>
<path d="M1294.5 1425.6H1334.6M1334.6 1425.6L1365 1061.2"/>
<path d="M1337.8 1499.4H1378.5M1378.5 1499.4L1401.3 1110.3"/>
<path d="M1365 1578.8H1405.8M1405.8 1578.8L1408.3 1307"/>
<path d="M1427 1538.5H1466.7M1466.7 1538.5L1459.6 1381.4"/>
<path d="M1249.7 1761.5H1289.7M1289.7 1761.5L1400.3 1720.5"/>
<path d="M1249.7 1921H1293.6M1293.6 1921L1313.8 1808"/>
<path d="M1356 1987.2H1400.3M1400.3 1987.2L1422.8 1816"/>
<path d="M1462.2 2037.8H1502.2M1462.2 2037.8L1477.6 1777.6"/>
<path d="M1558.3 2070.2H1599M1558.3 2070.2L1535.6 1740.7"/>
<path d="M1673.7 2070.2H1714.4M1673.7 2070.2L1564.4 1564.4"/>
<path d="M1673.7 1710H1714.4M1673.7 1710L1603.2 1421.5"/>
<path d="M1734.6 1897.8H1797.7M1734.6 1897.8L1736.9 1593.3"/>
<path d="M1868.9 2032H1931.4M1868.9 2032L1747.8 1556.4"/>
<path d="M1957 2032H2019.6M1957 2032L1808.7 1622.4"/>
<path d="M2067.6 2077.6H2130M2067.6 2077.6L2009 1807.7"/>
<path d="M2156.4 2156.2H2219.5M2156.4 2156.2L2133.8 1830.7"/>
<path d="M2292.8 2237.4H2355.5M2292.8 2237.4L2267.7 2101.9"/>
<path d="M2422.6 2264.2H2485.2M2422.6 2264.2L2356.3 2122.5"/>
<path d="M2523.2 1960.5H2586.2M2523.2 1960.5L2400 1846"/>
<path d="M2543 1862H2604.7M2543 1862L2342.3 1802.7"/>
<path d="M2561.5 1714.5H2623.3M2561.5 1714.5L2492.3 1638.3"/>
<path d="M2581.4 1559.3H2643.9M2581.4 1559.3L2490 1501"/>
<path d="M2676.6 1400H2739.1M2676.6 1400L2599.7 1297.4"/>
<path d="M2660.6 1189.4H2722.4M2660.6 1189.4L2573.4 1311.9"/>
<path d="M2421.2 1335.3H2483.7M2421.2 1335.3L2451 1456"/>
<path d="M2326.6 1335.3H2388.1M2388.1 1335.3L2431.4 1465.7"/>
<path d="M2271.2 1223H2333M2271.2 1223L2189.4 1313.8"/>
<path d="M2226 1117.3H2288.5M2226 1117.3L2182 1243.6"/>
<path d="M2180.4 1508.3H2243M2180.4 1508.3L2043.6 1525.3"/>
<path d="M2018 1335.3H2079.5M2018 1335.3L1864 1669"/>
<path d="M2018 1259.3H2079.5M2018 1259.3L1919.9 1418.9"/>
<path d="M2057 996.5H2119.6M2057 996.5L1997.8 1080"/>
<path d="M1969.6 877H2031.4M1969.6 877L1937.5 1005.4"/>
<path d="M1760.6 889.7H1822M1822 889.7L1819 1079.2"/>
<path d="M1841.7 837.2H1904.2M1904.2 837.2L1919.2 1134.6"/>
<path d="M1794.2 1192.3H1856M1856 1192.3L1885 1239.7"/>
<path d="M1869 1335.3H1931.4M1869 1335.3L1839.7 1233"/>
<path d="M1622 958.3H1690.7M1690.7 958.3L1722 1291"/>
<path d="M1477.2 1047.4H1539M1539 1047.4L1560 1216.7"/>
<path d="M1590 1019.5H1652M1590 1019.5L1602.2 1248.7"/>
<path d="M1628.5 1144.2H1690M1628.5 1144.2L1630.4 1290.4"/>
<path d="M1721.2 1131.4H1783M1783 1131.4L1762.2 1240.4"/>
<path d="M1381.7 923.7H1443.6M1443.6 923.7L1489.4 1211.2"/>
</g>
<g fill="#222" stroke="none">
<circle cx="372.8" cy="256.3" r="1.4"/>
<circle cx="571.7" cy="477.2" r="1.4"/>
<circle cx="664.8" cy="585.3" r="1.4"/>
<circle cx="726.6" cy="559" r="1.4"/>
<circle cx="849.4" cy="589.7" r="1.4"/>
<circle cx="868.9" cy="683.7" r="1.4"/>
<circle cx="952.2" cy="818.3" r="1.4"/>
<circle cx="1007.7" cy="1000.3" r="1.4"/>
<circle cx="1109.6" cy="1073" r="1.4"/>
<circle cx="1231.4" cy="989.7" r="1.4"/>
<circle cx="1262.5" cy="1166" r="1.4"/>
<circle cx="1365" cy="1061.2" r="1.4"/>
<circle cx="1401.3" cy="1110.3" r="1.4"/>
<circle cx="1408.3" cy="1307" r="1.4"/>
<circle cx="1459.6" cy="1381.4" r="1.4"/>
<circle cx="1400.3" cy="1720.5" r="1.4"/>
<circle cx="1313.8" cy="1808" r="1.4"/>
<circle cx="1422.8" cy="1816" r="1.4"/>
<circle cx="1477.6" cy="1777.6" r="1.4"/>
<circle cx="1535.6" cy="1740.7" r="1.4"/>
<circle cx="1564.4" cy="1564.4" r="1.4"/>
<circle cx="1603.2" cy="1421.5" r="1.4"/>
<circle cx="1736.9" cy="1593.3" r="1.4"/>
<circle cx="1747.8" cy="1556.4" r="1.4"/>
<circle cx="1808.7" cy="1622.4" r="1.4"/>
<circle cx="2009" cy="1807.7" r="1.4"/>
<circle cx="2133.8" cy="1830.7" r="1.4"/>
<circle cx="2267.7" cy="2101.9" r="1.4"/>
<circle cx="2356.3" cy="2122.5" r="1.4"/>
<circle cx="2400" cy="1846" r="1.4"/>
<circle cx="2342.3" cy="1802.7" r="1.4"/>
<circle cx="2492.3" cy="1638.3" r="1.4"/>
<circle cx="2490" cy="1501" r="1.4"/>
<circle cx="2599.7" cy="1297.4" r="1.4"/>
<circle cx="2573.4" cy="1311.9" r="1.4"/>
<circle cx="2451" cy="1456" r="1.4"/>
<circle cx="2431.4" cy="1465.7" r="1.4"/>
<circle cx="2189.4" cy="1313.8" r="1.4"/>
<circle cx="2182" cy="1243.6" r="1.4"/>
<circle cx="2043.6" cy="1525.3" r="1.4"/>
<circle cx="1864" cy="1669" r="1.4"/>
<circle cx="1919.9" cy="1418.9" r="1.4"/>
<circle cx="1997.8" cy="1080" r="1.4"/>
<circle cx="1937.5" cy="1005.4" r="1.4"/>
<circle cx="1819" cy="1079.2" r="1.4"/>
<circle cx="1919.2" cy="1134.6" r="1.4"/>
<circle cx="1885" cy="1239.7" r="1.4"/>
<circle cx="1839.7" cy="1233" r="1.4"/>
<circle cx="1722" cy="1291" r="1.4"/>
<circle cx="1560" cy="1216.7" r="1.4"/>
<circle cx="1602.2" cy="1248.7" r="1.4"/>
<circle cx="1630.4" cy="1290.4" r="1.4"/>
<circle cx="1762.2" cy="1240.4" r="1.4"/>
<circle cx="1489.4" cy="1211.2" r="1.4"/>
</g>
<g class="lt" font-size="42" text-anchor="middle" fill="#111">
<text transform="translate(311.1 429.6) scale(0.8 1)">1</text>
<text transform="translate(450.6 594.9) scale(0.8 1)">2</text>
<text transform="translate(566 715.8) scale(0.8 1)">3</text>
<text transform="translate(653 800.1) scale(0.8 1)">4</text>
<text transform="translate(743.2 880.6) scale(0.8 1)">5</text>
<text transform="translate(795.5 965.1) scale(0.8 1)">6</text>
<text transform="translate(869 1043.6) scale(0.8 1)">7</text>
<text transform="translate(934 1127.6) scale(0.8 1)">8</text>
<text transform="translate(1007.7 1176.4) scale(0.8 1)">9</text>
<text transform="translate(1120.3 1242.6) scale(0.8 1)" x="-13 13">10</text>
<text transform="translate(1218.5 1332.1) scale(0.8 1)" x="-13 13">11</text>
<text transform="translate(1314.5 1413.2) scale(0.8 1)" x="-13 13">12</text>
<text transform="translate(1358.2 1487) scale(0.8 1)" x="-13 13">13</text>
<text transform="translate(1385.4 1566.4) scale(0.8 1)" x="-13 13">14</text>
<text transform="translate(1446.8 1526.1) scale(0.8 1)" x="-13 13">15</text>
<text transform="translate(1269.7 1749.1) scale(0.8 1)" x="-13 13">16</text>
<text transform="translate(1271.7 1908.6) scale(0.8 1)" x="-13 13">17</text>
<text transform="translate(1378.2 1974.8) scale(0.8 1)" x="-13 13">18</text>
<text transform="translate(1482.2 2025.4) scale(0.8 1)" x="-13 13">19</text>
<text transform="translate(1578.7 2057.8) scale(0.8 1)" x="-13 13">20</text>
<text transform="translate(1694.1 2057.8) scale(0.8 1)" x="-13 13">21</text>
<text transform="translate(1694.1 1697.6) scale(0.8 1)" x="-13 13">22</text>
<text transform="translate(1756 1885.4) scale(0.8 1)" x="-13 13">23</text>
<text transform="translate(1889 2019.6) scale(0.8 1)" x="-13 13">24</text>
<text transform="translate(1977 2019.6) scale(0.8 1)" x="-13 13">25</text>
<text transform="translate(2087.8 2065.2) scale(0.8 1)" x="-13 13">26</text>
<text transform="translate(2176.2 2143.8) scale(0.8 1)" x="-13 13">27</text>
<text transform="translate(2313 2225) scale(0.8 1)" x="-13 13">28</text>
<text transform="translate(2443.2 2251.8) scale(0.8 1)" x="-13 13">29</text>
<text transform="translate(2545 1948.1) scale(0.8 1)" x="-13 13">30</text>
<text transform="translate(2562.7 1849.6) scale(0.8 1)" x="-13 13">31</text>
<text transform="translate(2582 1702.1) scale(0.8 1)" x="-13 13">32</text>
<text transform="translate(2602.2 1546.9) scale(0.8 1)" x="-13 13">33</text>
<text transform="translate(2697.4 1387.6) scale(0.8 1)" x="-13 13">34</text>
<text transform="translate(2680.8 1177) scale(0.8 1)" x="-13 13">35</text>
<text transform="translate(2441.3 1322.9) scale(0.8 1)" x="-13 13">36</text>
<text transform="translate(2345.8 1322.9) scale(0.8 1)" x="-13 13">37</text>
<text transform="translate(2292 1210.6) scale(0.8 1)" x="-13 13">38</text>
<text transform="translate(2246.8 1104.9) scale(0.8 1)" x="-13 13">39</text>
<text transform="translate(2201.3 1495.9) scale(0.8 1)" x="-13 13">40</text>
<text transform="translate(2036.2 1322.9) scale(0.8 1)" x="-13 13">41</text>
<text transform="translate(2037.2 1246.9) scale(0.8 1)" x="-13 13">42</text>
<text transform="translate(2077.2 984.1) scale(0.8 1)" x="-13 13">43</text>
<text transform="translate(1989 864.6) scale(0.8 1)" x="-13 13">44</text>
<text transform="translate(1779.8 877.3) scale(0.8 1)" x="-13 13">45</text>
<text transform="translate(1861.5 824.8) scale(0.8 1)" x="-13 13">46</text>
<text transform="translate(1814 1179.9) scale(0.8 1)" x="-13 13">47</text>
<text transform="translate(1888.8 1322.9) scale(0.8 1)" x="-13 13">48</text>
<text transform="translate(1649.5 945.9) scale(0.8 1)" x="-13 13">49</text>
<text transform="translate(1498 1035) scale(0.8 1)" x="-13 13">50</text>
<text transform="translate(1610.3 1007.1) scale(0.8 1)" x="-13 13">51</text>
<text transform="translate(1648 1131.8) scale(0.8 1)" x="-13 13">52</text>
<text transform="translate(1741.3 1119) scale(0.8 1)" x="-13 13">53</text>
<text transform="translate(1402 911.3) scale(0.8 1)" x="-13 13">54</text>
</g>
<rect x="2009" y="1296.2" width="59.3" height="34.2" fill="none" stroke="#cc4a46" stroke-width="1.6"/>
<g class="ti" font-size="80" text-anchor="middle" fill="#111">
<text transform="scale(0.72 1)" x="1744.4 1802.1 1852.8 1913.2 1968.1 2022.2 2078.5 2138.9 2202.8 2246.5 2289.6 2368.8 2415.3 2455.6" y="213.5" xml:space="preserve">Clamp 1 (2)(3)</text>
</g>
<g class="tb" stroke="#333" stroke-width="1" fill="none">
<path d="M186.2 1292.4H1171.9" stroke-width="1.2"/>
<path d="M186.2 1308.4H1171.9"/>
<path d="M186.2 1324.4H1171.9"/>
<path d="M186.2 1340.3H1171.9"/>
<path d="M186.2 1356.3H1171.9"/>
<path d="M186.2 1372.3H1171.9"/>
<path d="M186.2 1388.8H1171.9"/>
<path d="M186.2 1406H1171.9"/>
<path d="M186.2 1421.5H1171.9"/>
<path d="M186.2 1437.4H1171.9"/>
<path d="M186.2 1453.4H1171.9"/>
<path d="M186.2 1469.4H1171.9"/>
<path d="M186.2 1485.9H1171.9"/>
<path d="M186.2 1501.8H1171.9"/>
<path d="M186.2 1519.1H1171.9"/>
<path d="M186.2 1533.7H1171.9"/>
<path d="M186.2 1549.2H1171.9"/>
<path d="M186.2 1564.9H1171.9"/>
<path d="M186.2 1580.8H1171.9"/>
<path d="M186.2 1594.4H1171.9"/>
<path d="M186.2 1610.1H1171.9"/>
<path d="M186.2 1626H1171.9"/>
<path d="M186.2 1639.6H1171.9"/>
<path d="M186.2 1655.3H1171.9"/>
<path d="M186.2 1671.3H1171.9"/>
<path d="M186.2 1687.5H1171.9"/>
<path d="M186.2 1703.4H1171.9"/>
<path d="M186.2 1719.6H1171.9"/>
<path d="M186.2 1745.4H1171.9"/>
<path d="M186.2 1761.3H1171.9"/>
<path d="M186.2 1777.2H1171.9"/>
<path d="M186.2 1793.4H1171.9"/>
<path d="M186.2 1807H1171.9"/>
<path d="M186.2 1822.9H1171.9"/>
<path d="M186.2 1838.8H1171.9"/>
<path d="M186.2 1854.7H1171.9"/>
<path d="M186.2 1870.6H1171.9"/>
<path d="M186.2 1886.5H1171.9"/>
<path d="M186.2 1902.4H1171.9"/>
<path d="M186.2 1918.2H1171.9"/>
<path d="M186.2 1934.4H1171.9"/>
<path d="M186.2 1950.3H1171.9"/>
<path d="M186.2 1966.5H1171.9"/>
<path d="M186.2 1982.7H1171.9"/>
<path d="M186.2 1996H1171.9"/>
<path d="M186.2 2011.6H1171.9"/>
<path d="M186.2 2027.8H1171.9"/>
<path d="M186.2 2044H1171.9"/>
<path d="M186.2 2059.9H1171.9"/>
<path d="M186.2 2075.8H1171.9"/>
<path d="M186.2 2101.3H1171.9"/>
<path d="M186.2 2117.8H1171.9"/>
<path d="M186.2 2133.7H1171.9"/>
<path d="M186.2 2149.8H1171.9"/>
<path d="M274.2 1292.4V2165.4"/>
<path d="M494.2 1292.4V2165.4"/>
<path d="M1017.3 1292.4V2165.4"/>
<path d="M1171.9 1292.4V2165.4"/>
<path d="M186.2 1287.9V2165.4H1172.4" stroke="#111" stroke-width="2.2"/>
</g>
<g class="tt" font-size="13.4" text-anchor="middle" fill="#1a1a1a" transform="scale(0.82 1)">
<text x="276.9 284.6" y="1304.7">54</text>
<text x="449.2 456.9 464.7 472.4 480.2 487.9" y="1304.7">Spring</text>
<text x="867.4 875.2 882.9 890.7 898.4 906.2 913.9 921.6 929.4 937.1 944.9 952.6 960.4 968.1 975.9" y="1304.7">PSP-09,10.1A-31</text>
<text x="276.9 284.6" y="1320.7">53</text>
<text x="460.8 468.5 476.3" y="1320.7">Pin</text>
<text x="906.2 917.8 929.4 937.1" y="1320.7">4×14</text>
<text x="1292.3 1300 1307.8 1315.5 1323.3 1331 1338.8 1346.5 1354.2 1362 1369.7 1377.5" y="1320.7">GB119.1-2000</text>
<text x="276.9 284.6" y="1336.6">52</text>
<text x="433.7 441.4 449.2 456.9 464.7" y="1336.6">Chain</text>
<text x="480.2 487.9 495.6 503.4" y="1336.6">node</text>
<text x="906.2 913.9 921.6 929.4 937.1" y="1336.6">08BDF</text>
<text x="276.9 284.6" y="1352.6">51</text>
<text x="449.2" y="1352.6">O</text>
<text x="464.7 472.4 480.2 487.9" y="1352.6">ring</text>
<text x="894.5 902.3 910 921.6 933.3 941 948.8" y="1352.6">D20×2.4</text>
<text x="1303.9 1311.6 1319.4 1327.1 1334.9 1342.6 1350.4 1358.1 1365.9" y="1352.6">GB1235-76</text>
<text x="276.9 284.6" y="1368.6">50</text>
<text x="425.9 433.7 441.4 449.2 456.9" y="1368.6">Glide</text>
<text x="472.4 480.2 487.9 495.6 503.4 511.1" y="1368.6">column</text>
<text x="855.8 863.6 871.3 879.1 886.8 894.5 902.3 910 917.8 925.5 933.3 941 948.8 956.5 964.2 972 979.7 987.5" y="1368.6">T02-20A,000,000-06</text>
<text x="276.9 284.6" y="1384.8">49</text>
<text x="425.9 433.7 441.4 449.2 456.9" y="1384.8">Glide</text>
<text x="472.4 480.2 487.9 495.6 503.4 511.1" y="1384.8">column</text>
<text x="852 859.7 867.4 875.2 882.9 890.7 898.4 906.2 913.9 921.6 929.4 937.1 944.9 952.6 960.4 968.1 975.9 983.6 991.3" y="1384.8">T02-20A,000,000-13C</text>
<text x="276.9 284.6" y="1401.7">48</text>
<text x="453 460.8 468.5 476.3 484" y="1401.7">Screw</text>
<text x="902.3 910 921.6 933.3 941" y="1401.7">M3×12</text>
<text x="1296.2 1303.9 1311.6 1319.4 1327.1 1334.9 1342.6 1350.4 1358.1 1365.9 1373.6" y="1401.7">GB70.3-2000</text>
<text x="276.9 284.6" y="1418">47</text>
<text x="445.3 453 460.8 468.5 476.3 484 491.8" y="1418">Bracket</text>
<text x="608.5 616.2 624 631.7 639.5 647.2 655 662.7 670.5 678.2 685.9 693.7 701.4 709.2 716.9 724.7 732.4 740.2 747.9 755.6 763.4 771.1" y="1418">PSP-09,10.1A-01A(clamp</text>
<text x="786.6 794.4" y="1418">1)</text>
<text x="825.3 833.1 840.8 848.6 856.3 864.1 871.8 879.5 887.3 895 902.8 910.5 918.3 926 933.8 941.5 949.2 957 964.7 972.5 980.2 988" y="1418">PSP-09,10.3A-01A(clamp</text>
<text x="1003.4 1011.2" y="1418">3)</text>
<text x="276.9 284.6" y="1433.8">46</text>
<text x="425.9 433.7 441.4 449.2 456.9" y="1433.8">Press</text>
<text x="480.2 487.9 495.6 503.4 511.1" y="1433.8">plate</text>
<text x="855.8 863.6 871.3 879.1 886.8 894.5 902.3 910 917.8 925.5 933.3 941 948.8 956.5 964.2 972 979.7 987.5" y="1433.8">T02-20A,000,000-18</text>
<text x="276.9 284.6" y="1449.7">45</text>
<text x="441.4 449.2 456.9 464.7 472.4 480.2 487.9 495.6" y="1449.7">Cylinder</text>
<text x="894.5 902.3 910 917.8 925.5 933.3 941 948.8" y="1449.7">CU20-10S</text>
<text x="1327.1 1334.9 1342.6" y="1449.7">SMC</text>
<text x="276.9 284.6" y="1465.7">44</text>
<text x="453 460.8 468.5 476.3 484" y="1465.7">Screw</text>
<text x="902.3 910 921.6 933.3 941" y="1465.7">M5×25</text>
<text x="1296.2 1303.9 1311.6 1319.4 1327.1 1334.9 1342.6 1350.4 1358.1 1365.9 1373.6" y="1465.7">GB70.1-2000</text>
<text x="276.9 284.6" y="1482">43</text>
<text x="453 460.8 468.5 476.3 484" y="1482">Screw</text>
<text x="902.3 910 921.6 933.3 941" y="1482">M5×20</text>
<text x="1296.2 1303.9 1311.6 1319.4 1327.1 1334.9 1342.6 1350.4 1358.1 1365.9 1373.6" y="1482">GB70.1-2000</text>
<text x="276.9 284.6" y="1498.1">42</text>
<text x="418.2 425.9 433.7 441.4 449.2 456.9" y="1498.1">Linear</text>
<text x="472.4 480.2 487.9 495.6 503.4 511.1 518.9" y="1498.1">bearing</text>
<text x="882.9 890.7 898.4 906.2 913.9 921.6 929.4 937.1 944.9 952.6 960.4" y="1498.1">ST355270UUB</text>
<text x="1327.1 1334.9 1342.6" y="1498.1">IKO</text>
<text x="276.9 284.6" y="1514.7">41</text>
<text x="422.1 429.8 437.6 445.3 453" y="1514.7">Plane</text>
<text x="468.5 476.3 484 491.8 499.5 507.3 515" y="1514.7">bearing</text>
<text x="890.7 898.4 906.2 913.9 921.6 929.4 937.1 944.9 952.6" y="1514.7">FT2515-45</text>
<text x="1327.1 1334.9 1342.6" y="1514.7">IKO</text>
<text x="276.9 284.6" y="1530.7">40</text>
<text x="453 460.8 468.5 476.3 484" y="1530.7">Screw</text>
<text x="902.3 910 921.6 933.3 941" y="1530.7">M8×16</text>
<text x="1303.9 1311.6 1319.4 1327.1 1334.9 1342.6 1350.4 1358.1 1365.9" y="1530.7">GB77-2000</text>
<text x="276.9 284.6" y="1545.8">39</text>
<text x="460.8 468.5 476.3" y="1545.8">Pin</text>
<text x="906.2 917.8 929.4 937.1" y="1545.8">6×55</text>
<text x="1292.3 1300 1307.8 1315.5 1323.3 1331 1338.8 1346.5 1354.2 1362 1369.7 1377.5" y="1545.8">GB119.1-2000</text>
<text x="276.9 284.6" y="1561.4">38</text>
<text x="410.5 418.2 425.9 433.7 441.4" y="1561.4">Upper</text>
<text x="456.9 464.7 472.4 480.2 487.9" y="1561.4">clamp</text>
<text x="503.4 511.1 518.9 526.6" y="1561.4">body</text>
<text x="855.8 863.6 871.3 879.1 886.8 894.5 902.3 910 917.8 925.5 933.3 941 948.8 956.5 964.2 972 979.7 987.5" y="1561.4">T02-20A,000,000-08</text>
<text x="276.9 284.6" y="1577.1">37</text>
<text x="410.5 418.2 425.9 433.7 441.4 449.2 456.9 464.7 472.4 480.2" y="1577.1">Protection</text>
<text x="495.6 503.4 511.1 518.9 526.6" y="1577.1">plate</text>
<text x="852 859.7 867.4 875.2 882.9 890.7 898.4 906.2 913.9 921.6 929.4 937.1 944.9 952.6 960.4 968.1 975.9 983.6 991.3" y="1577.1">T02-20A,000,000-09B</text>
<text x="276.9 284.6" y="1591.9">36</text>
<text x="453 460.8 468.5 476.3 484" y="1591.9">Screw</text>
<text x="902.3 910 921.6 933.3 941" y="1591.9">M4×10</text>
<text x="1296.2 1303.9 1311.6 1319.4 1327.1 1334.9 1342.6 1350.4 1358.1 1365.9 1373.6" y="1591.9">GB70.3-2000</text>
<text x="276.9 284.6" y="1606.5">35</text>
<text x="449.2 456.9 464.7 472.4 480.2 487.9" y="1606.5">Spring</text>
<text x="875.2 882.9 890.7 902.3 913.9 921.6 929.4 937.1 948.8 960.4 968.1" y="1606.5">0.5×D4.5×26</text>
<text x="1296.2 1303.9 1311.6 1319.4 1327.1 1334.9 1342.6 1350.4 1358.1 1365.9 1373.6" y="1606.5">GB2089-1994</text>
<text x="276.9 284.6" y="1622.3">34</text>
<text x="414.3 422.1 429.8 437.6 445.3 453 460.8 468.5 476.3" y="1622.3">Induction</text>
<text x="491.8 499.5 507.3 515 522.7" y="1622.3">block</text>
<text x="867.4 875.2 882.9 890.7 898.4 906.2 913.9 921.6 929.4 937.1 944.9 952.6 960.4 968.1 975.9" y="1622.3">PSP-09,10.1A-30</text>
<text x="276.9 284.6" y="1637.1">33</text>
<text x="406.6 414.3 422.1 429.8 437.6" y="1637.1">Lower</text>
<text x="453 460.8 468.5 476.3 484" y="1637.1">tooth</text>
<text x="499.5 507.3 515 522.7 530.5" y="1637.1">plate</text>
<text x="608.5 616.2 624 631.7 639.5 647.2 655 662.7 670.5 678.2 685.9 693.7 701.4 709.2 716.9 724.7 732.4 740.2 747.9 755.6 763.4" y="1637.1">PSP-09,10.1A-03(clamp</text>
<text x="778.9 786.6" y="1637.1">1)</text>
<text x="802.1 809.8 817.6 825.3 833.1 840.8 848.6 856.3 864.1 871.8 879.5 887.3 895 902.8 910.5 918.3 926 933.8 941.5 949.2 957" y="1637.1">PSP-09,10.2A-03(clamp</text>
<text x="972.5 980.2" y="1637.1">2)</text>
<text x="995.7 1003.4 1011.2 1018.9 1026.7 1034.4 1042.2 1049.9 1057.7 1065.4 1073.1 1080.9 1088.6 1096.4 1104.1 1111.9 1119.6 1127.3 1135.1 1142.8 1150.6" y="1637.1">PSP-09,10.3A-03(clamp</text>
<text x="1166.1 1173.8" y="1637.1">3)</text>
<text x="276.9 284.6" y="1651.7">32</text>
<text x="453 460.8 468.5 476.3 484" y="1651.7">Screw</text>
<text x="902.3 910 921.6 933.3 941" y="1651.7">M5×16</text>
<text x="1296.2 1303.9 1311.6 1319.4 1327.1 1334.9 1342.6 1350.4 1358.1 1365.9 1373.6" y="1651.7">GB70.3-2000</text>
<text x="276.9 284.6" y="1667.6">31</text>
<text x="460.8 468.5 476.3" y="1667.6">Pin</text>
<text x="902.3 910 921.6 933.3 941" y="1667.6">10×20</text>
<text x="1300 1307.8 1315.5 1323.3 1331 1338.8 1346.5 1354.2 1362 1369.7" y="1667.6">GB118-2000</text>
<text x="276.9 284.6" y="1683.7">30</text>
<text x="453 460.8 468.5 476.3 484" y="1683.7">Screw</text>
<text x="902.3 910 921.6 933.3 941" y="1683.7">M6×20</text>
<text x="1296.2 1303.9 1311.6 1319.4 1327.1 1334.9 1342.6 1350.4 1358.1 1365.9 1373.6" y="1683.7">GB70.1-2000</text>
<text x="276.9 284.6" y="1699.8">29</text>
<text x="453 460.8 468.5 476.3 484" y="1699.8">Screw</text>
<text x="902.3 910 921.6 933.3 941" y="1699.8">M5×16</text>
<text x="1296.2 1303.9 1311.6 1319.4 1327.1 1334.9 1342.6 1350.4 1358.1 1365.9 1373.6" y="1699.8">GB70.3-2000</text>
<text x="276.9 284.6" y="1715.8">28</text>
<text x="425.9 433.7 441.4 449.2 456.9 464.7" y="1715.8">Bottom</text>
<text x="480.2 487.9 495.6 503.4 511.1" y="1715.8">plate</text>
<text x="867.4 875.2 882.9 890.7 898.4 906.2 913.9 921.6 929.4 937.1 944.9 952.6 960.4 968.1 975.9" y="1715.8">PSP-09,10.1A-08</text>
<text x="276.9 284.6" y="1736.8">27</text>
<text x="410.5 418.2 425.9 433.7 441.4" y="1736.8">Lower</text>
<text x="456.9 464.7 472.4 480.2 487.9" y="1736.8">clamp</text>
<text x="503.4 511.1 518.9 526.6" y="1736.8">body</text>
<text x="608.5 616.2 624 631.7 639.5 647.2 655 662.7 670.5 678.2 685.9 693.7 701.4 709.2 716.9 724.7 732.4 740.2 747.9 755.6 763.4 771.1" y="1736.8">PSP-09,10.1A-04C(clamp</text>
<text x="786.6 794.4" y="1736.8">1)</text>
<text x="809.8 817.6 825.3 833.1 840.8 848.6 856.3 864.1 871.8 879.5 887.3 895 902.8 910.5 918.3 926 933.8 941.5 949.2 957 964.7 972.5 980.2 988 995.7" y="1736.8">T02-20A,000,000-14F(clamp</text>
<text x="1011.2 1018.9" y="1736.8">2)</text>
<text x="1034.4 1042.2 1049.9 1057.7 1065.4 1073.1 1080.9 1088.6 1096.4 1104.1 1111.9 1119.6 1127.3 1135.1 1142.8 1150.6 1158.3 1166.1 1173.8 1181.6 1189.3 1197" y="1736.8">PSP-09,10.3A-04C(clamp</text>
<text x="1212.5 1220.3" y="1736.8">3)</text>
<text x="276.9 284.6" y="1757.6">26</text>
<text x="437.6 445.3 453 460.8" y="1757.6">Base</text>
<text x="476.3 484 491.8 499.5" y="1757.6">seat</text>
<text x="863.6 871.3 879.1 886.8 894.5 902.3 910 917.8 925.5 933.3 941 948.8 956.5 964.2 972 979.7" y="1757.6">PSP-09,10.1A-05A</text>
<text x="276.9 284.6" y="1773.5">25</text>
<text x="425.9 433.7 441.4 449.2 456.9 464.7" y="1773.5">Safety</text>
<text x="480.2 487.9 495.6 503.4 511.1" y="1773.5">wedge</text>
<text x="867.4 875.2 882.9 890.7 898.4 906.2 913.9 921.6 929.4 937.1 944.9 952.6 960.4 968.1 975.9" y="1773.5">PSP-09,10.1A-11</text>
<text x="276.9 284.6" y="1789.6">24</text>
<text x="387.2 395 402.7 410.5 418.2 425.9 433.7 441.4" y="1789.6">Backward</text>
<text x="456.9 464.7 472.4 480.2 487.9 495.6 503.4" y="1789.6">locking</text>
<text x="518.9 526.6 534.4 542.1 549.8" y="1789.6">plate</text>
<text x="867.4 875.2 882.9 890.7 898.4 906.2 913.9 921.6 929.4 937.1 944.9 952.6 960.4 968.1 975.9" y="1789.6">PSP-09,10.1A-12</text>
<text x="276.9 284.6" y="1804.5">23</text>
<text x="391.1 398.8 406.6 414.3 422.1 429.8 437.6" y="1804.5">Forward</text>
<text x="453 460.8 468.5 476.3 484 491.8 499.5" y="1804.5">locking</text>
<text x="515 522.7 530.5 538.2 546" y="1804.5">plate</text>
<text x="867.4 875.2 882.9 890.7 898.4 906.2 913.9 921.6 929.4 937.1 944.9 952.6 960.4 968.1 975.9" y="1804.5">PSP-09,10.1A-10</text>
<text x="276.9 284.6" y="1819.2">22</text>
<text x="449.2 456.9 464.7 472.4 480.2 487.9" y="1819.2">Washer</text>
<text x="867.4 875.2 882.9 890.7 898.4 906.2 913.9 921.6 929.4 937.1 944.9 952.6 960.4 968.1 975.9" y="1819.2">PSP-09,10.1A-22</text>
<text x="276.9 284.6" y="1835.1">21</text>
<text x="395 402.7 410.5 418.2 425.9" y="1835.1">Upper</text>
<text x="441.4 449.2 456.9 464.7 472.4 480.2 487.9 495.6" y="1835.1">guideway</text>
<text x="511.1 518.9 526.6 534.4 542.1" y="1835.1">clamp</text>
<text x="867.4 875.2 882.9 890.7 898.4 906.2 913.9 921.6 929.4 937.1 944.9 952.6 960.4 968.1 975.9" y="1835.1">PSP-09,10.1A-23</text>
<text x="276.9 284.6" y="1851">20</text>
<text x="395 402.7 410.5 418.2 425.9" y="1851">Lower</text>
<text x="441.4 449.2 456.9 464.7 472.4 480.2 487.9 495.6" y="1851">guideway</text>
<text x="511.1 518.9 526.6 534.4 542.1" y="1851">clamp</text>
<text x="867.4 875.2 882.9 890.7 898.4 906.2 913.9 921.6 929.4 937.1 944.9 952.6 960.4 968.1 975.9" y="1851">PSP-09,10.1A-24</text>
<text x="276.9 284.6" y="1867">19</text>
<text x="453 460.8 468.5 476.3 484" y="1867">Screw</text>
<text x="902.3 910 921.6 933.3 941" y="1867">M6×20</text>
<text x="1296.2 1303.9 1311.6 1319.4 1327.1 1334.9 1342.6 1350.4 1358.1 1365.9 1373.6" y="1867">GB70.1-2000</text>
<text x="276.9 284.6" y="1882.8">18</text>
<text x="387.2 395 402.7 410.5 418.2" y="1882.8">Lower</text>
<text x="433.7 441.4 449.2 456.9 464.7 472.4" y="1882.8">spring</text>
<text x="487.9 495.6 503.4 511.1 518.9 526.6 534.4 542.1 549.8" y="1882.8">supporter</text>
<text x="867.4 875.2 882.9 890.7 898.4 906.2 913.9 921.6 929.4 937.1 944.9 952.6 960.4 968.1 975.9" y="1882.8">PSP-09,10.1A-29</text>
<text x="276.9 284.6" y="1898.8">17</text>
<text x="449.2 456.9 464.7 472.4 480.2 487.9" y="1898.8">Spring</text>
<text x="882.9 890.7 898.4 910 921.6 929.4 941 952.6 960.4" y="1898.8">0.6×D8×20</text>
<text x="1296.2 1303.9 1311.6 1319.4 1327.1 1334.9 1342.6 1350.4 1358.1 1365.9 1373.6" y="1898.8">GB2089-1994</text>
<text x="276.9 284.6" y="1914.6">16</text>
<text x="387.2 395 402.7 410.5 418.2" y="1914.6">Upper</text>
<text x="433.7 441.4 449.2 456.9 464.7 472.4" y="1914.6">spring</text>
<text x="487.9 495.6 503.4 511.1 518.9 526.6 534.4 542.1 549.8" y="1914.6">supporter</text>
<text x="867.4 875.2 882.9 890.7 898.4 906.2 913.9 921.6 929.4 937.1 944.9 952.6 960.4 968.1 975.9" y="1914.6">PSP-09,10.1A-28</text>
<text x="276.9 284.6" y="1930.6">15</text>
<text x="422.1 429.8 437.6 445.3 453" y="1930.6">Upper</text>
<text x="468.5 476.3 484 491.8 499.5 507.3 515" y="1930.6">stopper</text>
<text x="867.4 875.2 882.9 890.7 898.4 906.2 913.9 921.6 929.4 937.1 944.9 952.6 960.4 968.1 975.9" y="1930.6">PSP-09,10.1A-21</text>
<text x="276.9 284.6" y="1946.6">14</text>
<text x="449.2" y="1946.6">O</text>
<text x="464.7 472.4 480.2 487.9" y="1946.6">ring</text>
<text x="894.5 902.3 910 921.6 933.3 941 948.8" y="1946.6">D40×3.5</text>
<text x="1303.9 1311.6 1319.4 1327.1 1334.9 1342.6 1350.4 1358.1 1365.9" y="1946.6">GB1235-76</text>
<text x="276.9 284.6" y="1962.7">13</text>
<text x="449.2" y="1962.7">O</text>
<text x="464.7 472.4 480.2 487.9" y="1962.7">ring</text>
<text x="894.5 902.3 910 921.6 933.3 941 948.8" y="1962.7">D60×5.7</text>
<text x="1303.9 1311.6 1319.4 1327.1 1334.9 1342.6 1350.4 1358.1 1365.9" y="1962.7">GB1235-76</text>
<text x="276.9 284.6" y="1978.9">12</text>
<text x="449.2 456.9 464.7 472.4 480.2 487.9" y="1978.9">Piston</text>
<text x="852 859.7 867.4 875.2 882.9 890.7 898.4 906.2 913.9 921.6 929.4 937.1 944.9 952.6 960.4 968.1 975.9 983.6 991.3" y="1978.9">T02-20A,000,000-04D</text>
<text x="276.9 284.6" y="1993.6">11</text>
<text x="449.2 456.9 464.7 472.4 480.2 487.9" y="1993.6">Piston</text>
<text x="867.4 875.2 882.9 890.7 898.4 906.2 913.9 921.6 929.4 937.1 944.9 952.6 960.4 968.1 975.9" y="1993.6">PSP-09,10.1A-20</text>
<text x="276.9 284.6" y="2008.1">10</text>
<text x="449.2 456.9 464.7 472.4 480.2 487.9" y="2008.1">Spring</text>
<text x="855.8 863.6 871.3 879.1 886.8 894.5 902.3 910 917.8 925.5 933.3 941 948.8 956.5 964.2 972 979.7 987.5" y="2008.1">T02-20A,000,000-03</text>
<text x="280.7" y="2024">9</text>
<text x="422.1 429.8 437.6 445.3" y="2024">Lock</text>
<text x="460.8 468.5 476.3 484 491.8 499.5 507.3 515" y="2024">cylinder</text>
<text x="863.6 871.3 879.1 886.8 894.5 902.3 910 917.8 925.5 933.3 941 948.8 956.5 964.2 972 979.7" y="2024">PSP-09,10.1A-19A</text>
<text x="280.7" y="2040.2">8</text>
<text x="453 460.8 468.5 476.3 484" y="2040.2">Screw</text>
<text x="902.3 910 921.6 933.3 941" y="2040.2">M6×20</text>
<text x="1296.2 1303.9 1311.6 1319.4 1327.1 1334.9 1342.6 1350.4 1358.1 1365.9 1373.6" y="2040.2">GB70.1-2000</text>
<text x="280.7" y="2056.2">7</text>
<text x="441.4 449.2 456.9 464.7 472.4 480.2 487.9 495.6" y="2056.2">Cylinder</text>
<text x="863.6 871.3 879.1 886.8 894.5 902.3 910 917.8 925.5 933.3 941 948.8 956.5 964.2 972 979.7" y="2056.2">PSP-09,10.1A-15A</text>
<text x="280.7" y="2072.2">6</text>
<text x="453 460.8 468.5 476.3 484" y="2072.2">Screw</text>
<text x="894.5 902.3 910 921.6 933.3 941 948.8" y="2072.2">M10×100</text>
<text x="1296.2 1303.9 1311.6 1319.4 1327.1 1334.9 1342.6 1350.4 1358.1 1365.9 1373.6" y="2072.2">GB70.1-2000</text>
<text x="280.7" y="2092.9">5</text>
<text x="445.3 453 460.8 468.5 476.3 484 491.8" y="2092.9">Bracket</text>
<text x="608.5 616.2 624 631.7 639.5 647.2 655 662.7 670.5 678.2 685.9 693.7 701.4 709.2 716.9 724.7 732.4 740.2 747.9 755.6 763.4" y="2092.9">PSP-09,10.1A-02(clamp</text>
<text x="778.9 786.6" y="2092.9">1)</text>
<text x="802.1 809.8 817.6 825.3 833.1 840.8 848.6 856.3 864.1 871.8 879.5 887.3 895 902.8 910.5 918.3 926 933.8 941.5 949.2 957" y="2092.9">PSP-09,10.2A-02(clamp</text>
<text x="972.5 980.2" y="2092.9">2)</text>
<text x="995.7 1003.4 1011.2 1018.9 1026.7 1034.4 1042.2 1049.9 1057.7 1065.4 1073.1 1080.9 1088.6 1096.4 1104.1 1111.9 1119.6 1127.3 1135.1 1142.8 1150.6" y="2092.9">PSP-09,10.3A-02(clamp</text>
<text x="1166.1 1173.8" y="2092.9">3)</text>
<text x="280.7" y="2113.9">4</text>
<text x="453 460.8 468.5 476.3 484" y="2113.9">Screw</text>
<text x="902.3 910 921.6 933.3 941" y="2113.9">M6×16</text>
<text x="1296.2 1303.9 1311.6 1319.4 1327.1 1334.9 1342.6 1350.4 1358.1 1365.9 1373.6" y="2113.9">GB70.1-2000</text>
<text x="280.7" y="2130.1">3</text>
<text x="429.8 437.6 445.3 453 460.8" y="2130.1">Cover</text>
<text x="476.3 484 491.8 499.5 507.3" y="2130.1">plate</text>
<text x="852 859.7 867.4 875.2 882.9 890.7 898.4 906.2 913.9 921.6 929.4 937.1 944.9 952.6 960.4 968.1 975.9 983.6 991.3" y="2130.1">T02-20A,000,000-11D</text>
<text x="280.7" y="2146.1">2</text>
<text x="453 460.8 468.5 476.3 484" y="2146.1">Screw</text>
<text x="902.3 910 921.6 933.3 941" y="2146.1">M6×25</text>
<text x="1296.2 1303.9 1311.6 1319.4 1327.1 1334.9 1342.6 1350.4 1358.1 1365.9 1373.6" y="2146.1">GB70.1-2000</text>
<text x="280.7" y="2161.9">1</text>
<text x="422.1 429.8 437.6 445.3 453 460.8 468.5 476.3 484" y="2161.9">Induction</text>
<text x="499.5 507.3 515" y="2161.9">rod</text>
<text x="867.4 875.2 882.9 890.7 898.4 906.2 913.9 921.6 929.4 937.1 944.9 952.6 960.4 968.1 975.9" y="2161.9">PSP-09,10.1A-16</text>
</g>
<rect x="185.4" y="1501.3" width="988.6" height="17.6" fill="none" stroke="#c8403c" stroke-width="1.6"/>
</svg></body></html>
